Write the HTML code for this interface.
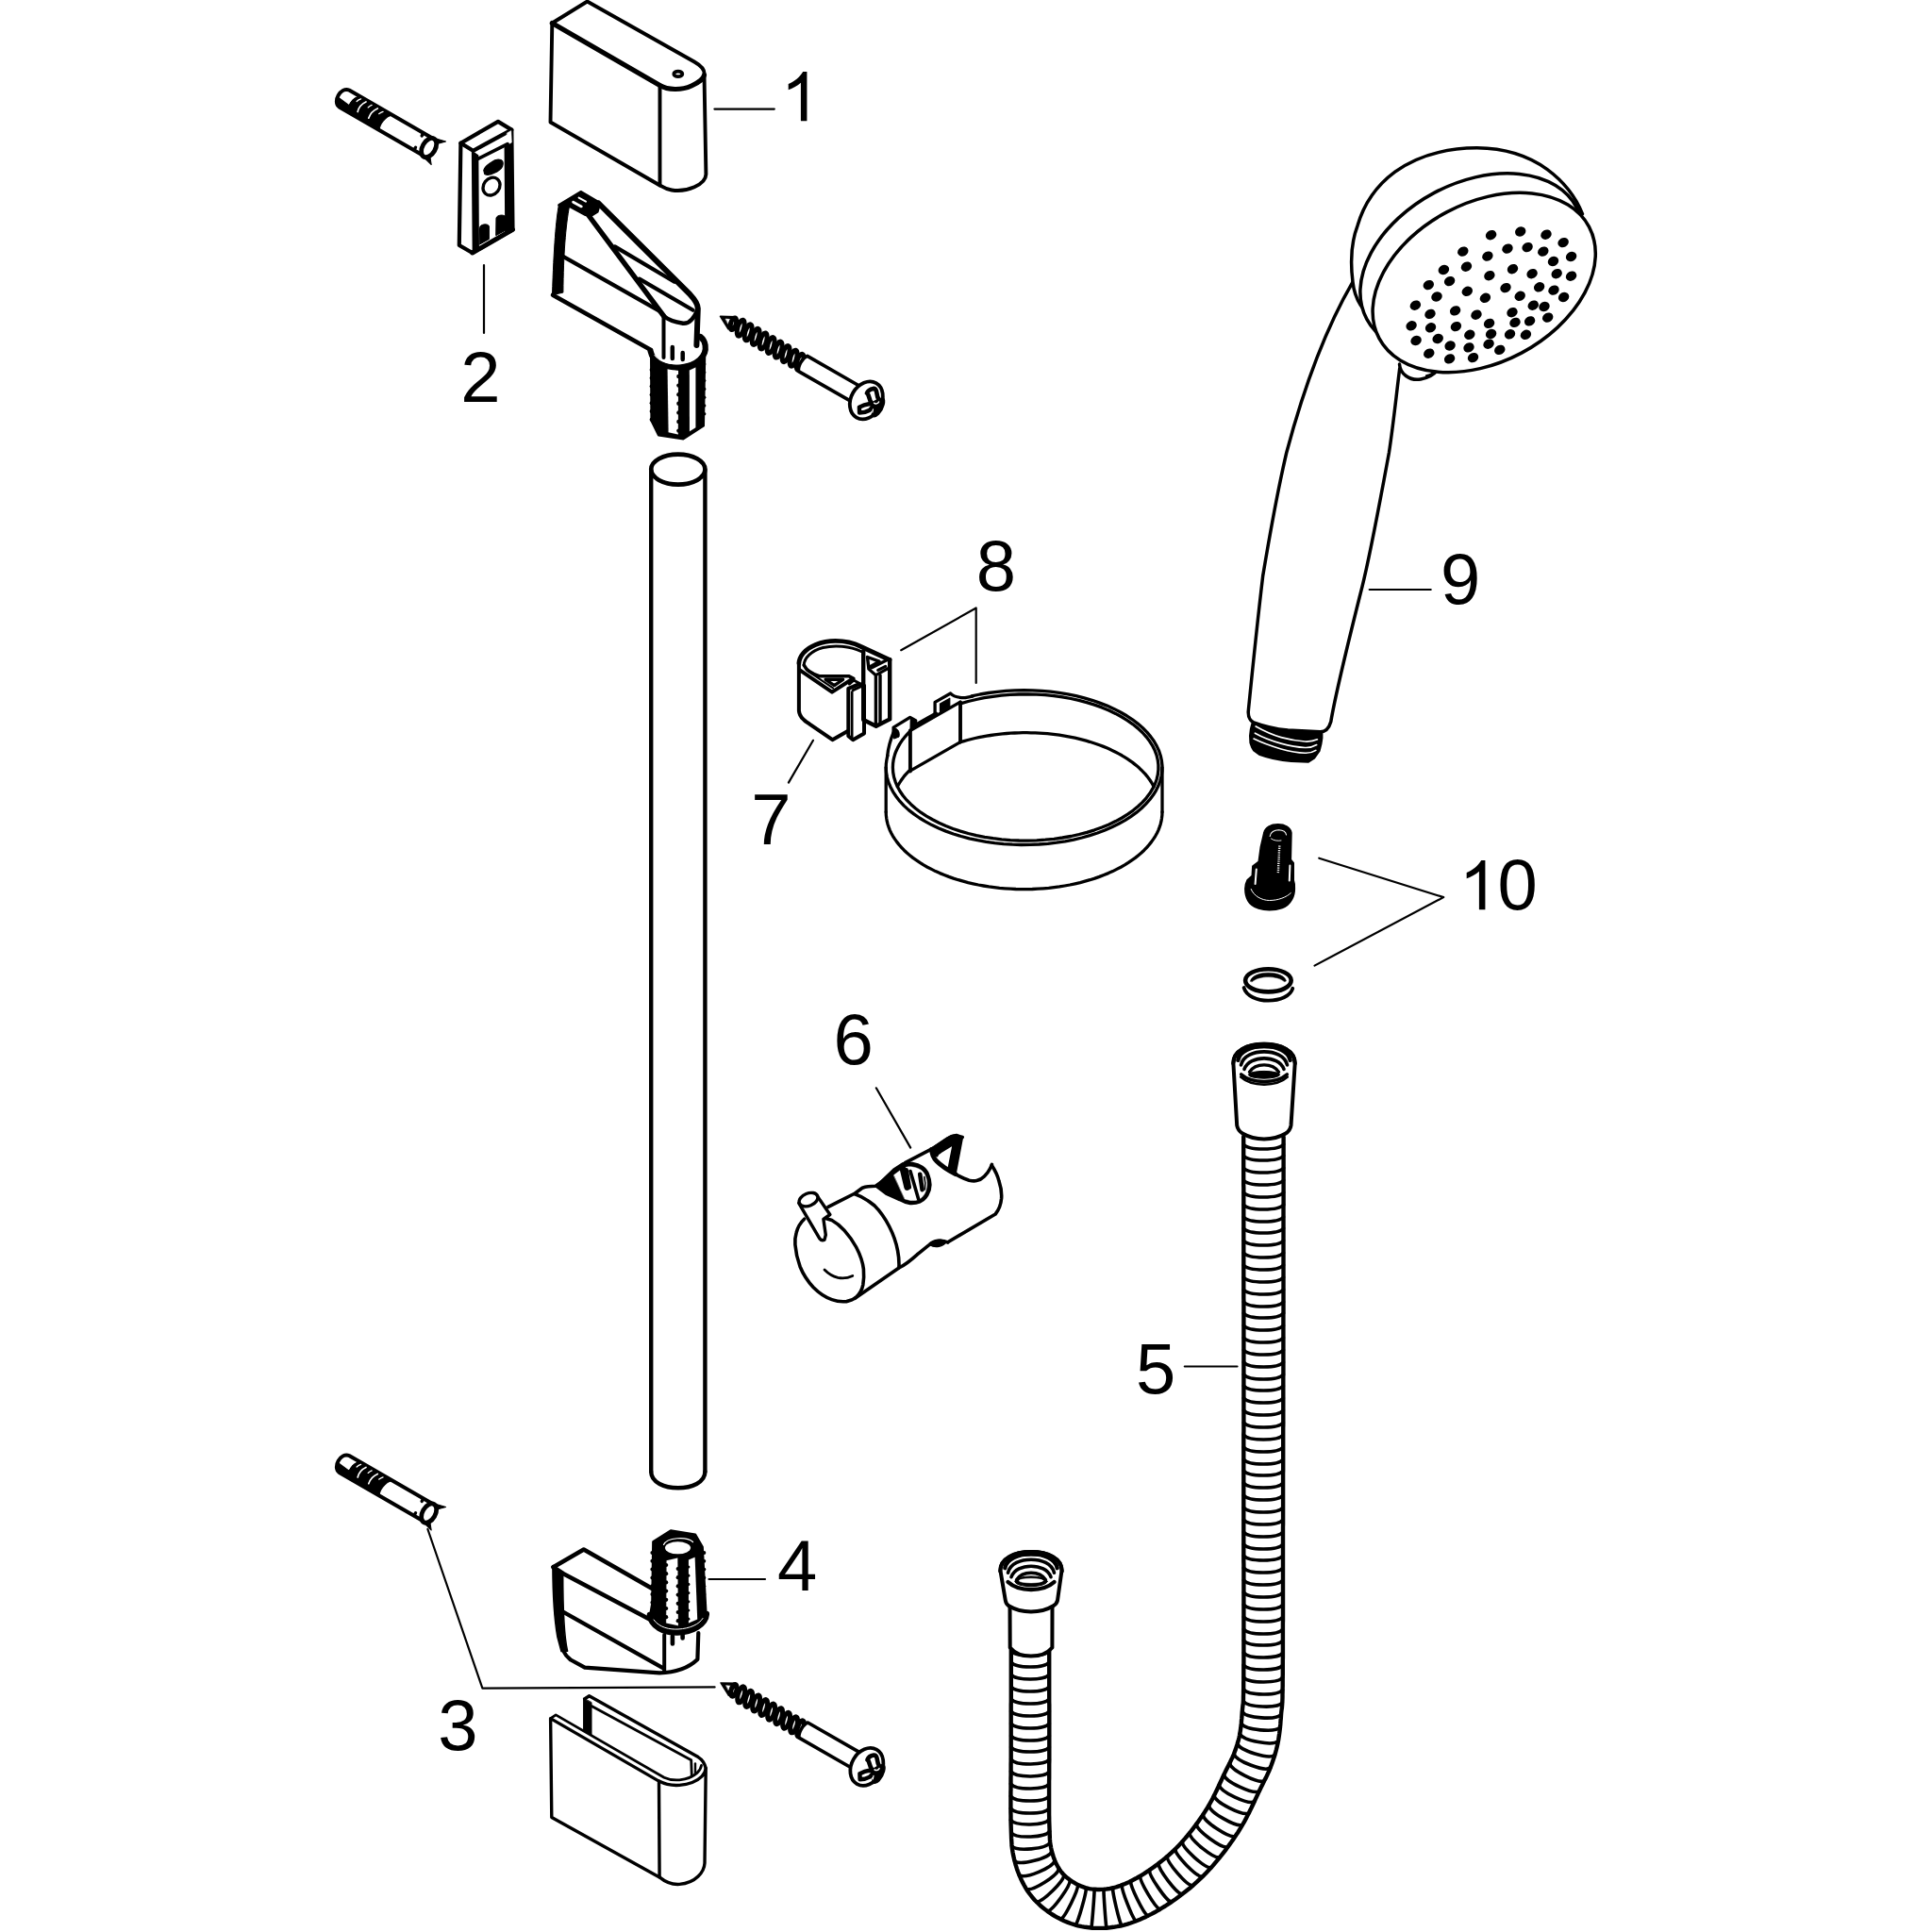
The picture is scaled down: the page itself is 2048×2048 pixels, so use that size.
<!DOCTYPE html>
<html><head><meta charset="utf-8"><title>Exploded diagram</title>
<style>
html,body{margin:0;padding:0;background:#fff;}
body{width:2048px;height:2048px;overflow:hidden;}
svg{display:block;}
.t{font-family:"Liberation Sans",sans-serif;fill:#000;}
path,line,ellipse,polyline{stroke-linecap:round;stroke-linejoin:round;}
</style></head><body>
<svg xmlns="http://www.w3.org/2000/svg" width="2048" height="2048" viewBox="0 0 2048 2048">
<rect width="2048" height="2048" fill="#fff"/>
<path transform="translate(855.4,128.3)" d="M0,0 L-6.5,0 L-6.5,-40.6 C-10.5,-37.2 -15.5,-34.6 -19.7,-33.1 L-19.7,-39.3 C-13.5,-41.8 -7.4,-46.6 -4.2,-52.3 L0,-52.3 Z" fill="#000"/>
<text x="488.3" y="425.8" font-size="76" class="t">2</text>
<text x="464.2" y="1855.4" font-size="76" class="t">3</text>
<text x="824.0" y="1685.8" font-size="76" class="t">4</text>
<text x="1204.1" y="1477.0" font-size="76" class="t">5</text>
<text x="883.5" y="1128.2" font-size="76" class="t">6</text>
<text x="796.2" y="894.6" font-size="76" class="t">7</text>
<text x="1034.7" y="626.1" font-size="76" class="t">8</text>
<text x="1527.0" y="640.0" font-size="76" class="t">9</text>
<path transform="translate(1574.4,964.3)" d="M0,0 L-6.5,0 L-6.5,-40.6 C-10.5,-37.2 -15.5,-34.6 -19.7,-33.1 L-19.7,-39.3 C-13.5,-41.8 -7.4,-46.6 -4.2,-52.3 L0,-52.3 Z" fill="#000"/>
<text x="1587.6" y="964.4" font-size="76" class="t">0</text>
<line x1="757.4" y1="115.6" x2="820.8" y2="115.6" stroke="#000" stroke-width="2.2" />
<line x1="513.0" y1="281.0" x2="513.0" y2="353.0" stroke="#000" stroke-width="2.2" />
<path d="M453.4,1621 L511.4,1789.6 L757.6,1788.4" fill="none" stroke="#000" stroke-width="2.2" />
<line x1="751.5" y1="1674.0" x2="811.0" y2="1674.0" stroke="#000" stroke-width="2.2" />
<line x1="1255.8" y1="1448.5" x2="1311.5" y2="1448.5" stroke="#000" stroke-width="2.2" />
<line x1="928.8" y1="1153.3" x2="965.2" y2="1216.6" stroke="#000" stroke-width="2.2" />
<line x1="862.0" y1="784.8" x2="835.9" y2="829.6" stroke="#000" stroke-width="2.2" />
<path d="M955.2,689.2 L1034.7,644.5 L1034.7,724" fill="none" stroke="#000" stroke-width="2.2" />
<line x1="1451.7" y1="625.0" x2="1516.7" y2="625.0" stroke="#000" stroke-width="2.2" />
<path d="M1398.3,909.7 L1530.2,951.1 L1393.5,1023.6" fill="none" stroke="#000" stroke-width="2.2" />
<path d="M585.3,24.5 L622.5,1.5 L736,65.5 C744,70 747.5,75 746.5,80 L748.4,184.8 C748,196 728,204 712,201.5 C706,200.5 702,198 699.5,196.5 L583.5,129.5 Z" fill="none" stroke="#000" stroke-width="3.9" />
<path d="M585.3,24.5 L699.5,90.5 C708,95.5 722,96 733,91 C741,87.5 746,83 746.5,79.7" fill="none" stroke="#000" stroke-width="5.2" />
<line x1="699.5" y1="90.5" x2="699.5" y2="196.5" stroke="#000" stroke-width="3.9" />
<ellipse cx="718.8" cy="78.4" rx="4.5" ry="2.7" fill="none" stroke="#000" stroke-width="3.8"/>
<g transform="translate(364,104) rotate(30)">
<path d="M1,-10.4 L104,-10.4 L104,10.4 L1,10.4 C-8.5,9 -8.5,-9 1,-10.4 Z" fill="#fff" stroke="#000" stroke-width="4" />
<path d="M14,-10 C8,-5 8,5 12,10.5 L-2,10.5 C-5,8 -6,5 -5.5,2 L9,3.5 C9,-2 11,-7 14,-10 Z" fill="#000" stroke="#000" stroke-width="1" />
<path d="M14,-10.4 L54,-10.4 C48,-5 47,5 50,10.4 L12,10.4 C8,5 8,-5 14,-10.4 Z" fill="#000" stroke="#000" stroke-width="1" />
<path d="M22.7,-8.6 C19.5,-4 19,1 20.4,5" fill="none" stroke="#fff" stroke-width="1.7" />
<path d="M36.9,-8.6 C33.5,-4 33,1 33.8,5" fill="none" stroke="#fff" stroke-width="1.7" />
<path d="M16.5,-8.6 C15,-7 14.4,-5.5 14,-4" fill="none" stroke="#fff" stroke-width="1.3" />
<path d="M29.8,-8.6 C28.5,-7 28,-5.5 27.6,-4.5" fill="none" stroke="#fff" stroke-width="1.3" />
<path d="M43.6,-8.6 C42,-7 41.5,-5.5 41,-4.5" fill="none" stroke="#fff" stroke-width="1.3" />
<ellipse cx="104.8" cy="0.2" rx="6.8" ry="11.0" fill="#fff" stroke="#000" stroke-width="4.8"/>
<path d="M92,-10 L92,-7 M92.4,10 L92.4,7" fill="none" stroke="#000" stroke-width="3.4" />
<path d="M105,-11.5 L117,-14.5 L109.5,-7 Z" fill="#000" stroke="#000" stroke-width="1" />
<path d="M104,11.5 L116,14.5 L109.5,6.5 Z" fill="#000" stroke="#000" stroke-width="1" />
</g>
<g transform="translate(364,1551.5) rotate(30)">
<path d="M1,-10.4 L104,-10.4 L104,10.4 L1,10.4 C-8.5,9 -8.5,-9 1,-10.4 Z" fill="#fff" stroke="#000" stroke-width="4" />
<path d="M14,-10 C8,-5 8,5 12,10.5 L-2,10.5 C-5,8 -6,5 -5.5,2 L9,3.5 C9,-2 11,-7 14,-10 Z" fill="#000" stroke="#000" stroke-width="1" />
<path d="M14,-10.4 L54,-10.4 C48,-5 47,5 50,10.4 L12,10.4 C8,5 8,-5 14,-10.4 Z" fill="#000" stroke="#000" stroke-width="1" />
<path d="M22.7,-8.6 C19.5,-4 19,1 20.4,5" fill="none" stroke="#fff" stroke-width="1.7" />
<path d="M36.9,-8.6 C33.5,-4 33,1 33.8,5" fill="none" stroke="#fff" stroke-width="1.7" />
<path d="M16.5,-8.6 C15,-7 14.4,-5.5 14,-4" fill="none" stroke="#fff" stroke-width="1.3" />
<path d="M29.8,-8.6 C28.5,-7 28,-5.5 27.6,-4.5" fill="none" stroke="#fff" stroke-width="1.3" />
<path d="M43.6,-8.6 C42,-7 41.5,-5.5 41,-4.5" fill="none" stroke="#fff" stroke-width="1.3" />
<ellipse cx="104.8" cy="0.2" rx="6.8" ry="11.0" fill="#fff" stroke="#000" stroke-width="4.8"/>
<path d="M92,-10 L92,-7 M92.4,10 L92.4,7" fill="none" stroke="#000" stroke-width="3.4" />
<path d="M105,-11.5 L117,-14.5 L109.5,-7 Z" fill="#000" stroke="#000" stroke-width="1" />
<path d="M104,11.5 L116,14.5 L109.5,6.5 Z" fill="#000" stroke="#000" stroke-width="1" />
</g>
<path d="M488.4,151.7 L528.0,128.9 L542.3,137.6 L543.5,243.4 L500.7,268.0 L486.8,260.0 Z" fill="none" stroke="#000" stroke-width="4.2" />
<path d="M488.4,151.7 L501.5,159.8 L542.3,137.6" fill="none" stroke="#000" stroke-width="4.2" />
<path d="M500.6,160.5 L506.6,164.8 L507.2,262.8 L501.4,266 Z" fill="#000" stroke="#000" stroke-width="1.5" />
<path d="M535.3,155.2 L541.8,151.6 L542.4,243 L536,246.5 Z" fill="#000" stroke="#000" stroke-width="1.5" />
<path d="M537.5,141 L541.8,138.6 L542.4,151 L538,153.4 Z" fill="#fff" stroke="#fff" stroke-width="0.5" />
<path d="M504,169.7 L538,152.7" fill="none" stroke="#000" stroke-width="3.7" />
<path d="M500.7,268 L543.5,243.4" fill="none" stroke="#000" stroke-width="5" />
<ellipse cx="521.0" cy="197.6" rx="8.4" ry="10.0" fill="none" stroke="#000" stroke-width="3.4" transform="rotate(38 521.0 197.6)"/>
<path d="M512.8,180.5 C514,176 518,174 521,172 C524,169.5 528,168.5 531,169.5 C533.5,171 533.5,174 532.5,176.5 C531,180 527,182 523.5,183.5 C520,185.2 516,185.8 513.8,184.5 Z" fill="#000" stroke="#000" stroke-width="1.2" />
<path d="M508.6,241 C509,237.5 517.5,236.5 518.4,240 L518.4,253.5 L508.6,259 Z" fill="#000" stroke="#000" stroke-width="1" />
<path d="M526,231 C526.5,227.5 535.5,226.8 536.2,230.5 L536.2,244 L526,249.5 Z" fill="#000" stroke="#000" stroke-width="1" />
<path d="M592.4,217.2 C589.5,232 587,262 585.5,312.7 L596.9,310.1 C597.2,270 599.5,240 603.6,218.2 Z" fill="#000" stroke="#000" stroke-width="1" />
<path d="M592.4,217.4 L615.6,203.2 L636,215 L633.4,224.4 L627,228.5 L620.2,227.7 L603.6,218.6 Z" fill="#000" stroke="#000" stroke-width="2.5" />
<path d="M613.6,209.6 L621,213.6" fill="none" stroke="#fff" stroke-width="2.0" />
<path d="M607.6,214.2 L616.3,218.9" fill="none" stroke="#fff" stroke-width="2.8" />
<circle cx="627.6" cy="221.2" r="6.5" fill="#000"/>
<path d="M634.5,215.5 L731.5,312.2 C737,318 739.8,322 739.8,327 L738.4,366" fill="none" stroke="#000" stroke-width="6" />
<path d="M621.8,225.5 L703.5,334.9" fill="none" stroke="#000" stroke-width="5.4" />
<path d="M703.5,334.9 C708,339 716,341.5 724,342.8 C730,343.5 735,339 739.6,328" fill="none" stroke="#000" stroke-width="4.5" />
<line x1="651.8" y1="261.4" x2="714.9" y2="298.7" stroke="#000" stroke-width="4.2" />
<line x1="677.7" y1="295.6" x2="734.6" y2="328.7" stroke="#000" stroke-width="4.2" />
<line x1="596.9" y1="271.8" x2="699.4" y2="329.8" stroke="#000" stroke-width="4.2" />
<line x1="586.0" y1="312.7" x2="690.0" y2="371.0" stroke="#000" stroke-width="4.6" />
<line x1="703.5" y1="336.0" x2="703.5" y2="379.0" stroke="#000" stroke-width="4" />
<path d="M690.0,374 C692,387 708,391.5 722,390.3 C738,389 749,380 747.4,367 L746.0,451.5 L724.4,465.5 L698,461.5 L690.4,446 Z" fill="#000" stroke="#000" stroke-width="2" />
<path d="M707.6,390.5 L719.0,392.8 L718.8,460.6 L708.6,458.2 Z" fill="#fff" stroke="#fff" stroke-width="0.1" />
<path d="M730.9,392.5 L737.4,389.5 L737.4,453.2 L731.0,457.2 Z" fill="#fff" stroke="#fff" stroke-width="0.1" />
<circle cx="719.4" cy="399.0" r="2.2" fill="#000"/>
<circle cx="719.4" cy="408.6" r="2.2" fill="#000"/>
<circle cx="719.4" cy="418.2" r="2.2" fill="#000"/>
<circle cx="719.4" cy="427.8" r="2.2" fill="#000"/>
<circle cx="719.4" cy="437.4" r="2.2" fill="#000"/>
<circle cx="719.4" cy="447.0" r="2.2" fill="#000"/>
<circle cx="719.4" cy="456.6" r="2.2" fill="#000"/>
<circle cx="690.6" cy="392.0" r="2.0" fill="#000"/>
<circle cx="746.6" cy="386.0" r="1.8" fill="#000"/>
<circle cx="690.6" cy="400.8" r="2.0" fill="#000"/>
<circle cx="746.6" cy="394.8" r="1.8" fill="#000"/>
<circle cx="690.6" cy="409.6" r="2.0" fill="#000"/>
<circle cx="746.6" cy="403.6" r="1.8" fill="#000"/>
<circle cx="690.6" cy="418.4" r="2.0" fill="#000"/>
<circle cx="746.6" cy="412.4" r="1.8" fill="#000"/>
<circle cx="690.6" cy="427.2" r="2.0" fill="#000"/>
<circle cx="746.6" cy="421.2" r="1.8" fill="#000"/>
<circle cx="690.6" cy="436.0" r="2.0" fill="#000"/>
<circle cx="746.6" cy="430.0" r="1.8" fill="#000"/>
<circle cx="690.6" cy="444.8" r="2.0" fill="#000"/>
<circle cx="746.6" cy="438.8" r="1.8" fill="#000"/>
<path d="M712.8,368 L712.8,380 M723.7,374 L723.7,381" fill="none" stroke="#000" stroke-width="4.5" />
<path d="M689.5,372 C692,385 708,390.5 722,389.3 C738,388 749.5,378 747.6,366 C747,362 745,359 742.5,357" fill="none" stroke="#000" stroke-width="6.2" />
<path d="M694,376.5 C700,384.5 712,386.5 722,385.3 C733,384 742,378 743.6,369.5" fill="none" stroke="#fff" stroke-width="1.1" />
<line x1="690.2" y1="498.0" x2="690.2" y2="1560.0" stroke="#000" stroke-width="4.4" />
<line x1="747.4" y1="498.0" x2="747.4" y2="1560.0" stroke="#000" stroke-width="4.4" />
<ellipse cx="718.8" cy="497.6" rx="28.6" ry="16.0" fill="none" stroke="#000" stroke-width="4.6"/>
<path d="M690.2,1560 C690.2,1583 747.4,1583 747.4,1560" fill="none" stroke="#000" stroke-width="4.4" />
<g transform="translate(763.5,335.3) rotate(29.8)">
<path d="M0,0 L14,-7.5 L14,7.5 Z" fill="#000" stroke="#000" stroke-width="1.5" />
<path d="M6.5,-0.5 L11,-2.5 L11,2.5 Z" fill="#fff" stroke="#fff" stroke-width="0.5" />
<ellipse cx="16" cy="0" rx="2.8" ry="6.5" fill="#fff" stroke="#000" stroke-width="5" transform="rotate(-14 16 0)"/>
<ellipse cx="25" cy="0" rx="3.3" ry="8.8" fill="#fff" stroke="#000" stroke-width="5" transform="rotate(-14 25 0)"/>
<ellipse cx="34.2" cy="0" rx="3.3" ry="8.8" fill="#fff" stroke="#000" stroke-width="5" transform="rotate(-14 34.2 0)"/>
<ellipse cx="43.4" cy="0" rx="3.3" ry="8.8" fill="#fff" stroke="#000" stroke-width="5" transform="rotate(-14 43.4 0)"/>
<ellipse cx="52.6" cy="0" rx="3.3" ry="8.8" fill="#fff" stroke="#000" stroke-width="5" transform="rotate(-14 52.6 0)"/>
<ellipse cx="61.8" cy="0" rx="3.3" ry="8.8" fill="#fff" stroke="#000" stroke-width="5" transform="rotate(-14 61.8 0)"/>
<ellipse cx="71" cy="0" rx="3.3" ry="8.8" fill="#fff" stroke="#000" stroke-width="5" transform="rotate(-14 71 0)"/>
<ellipse cx="80.2" cy="0" rx="3.3" ry="8.8" fill="#fff" stroke="#000" stroke-width="5" transform="rotate(-14 80.2 0)"/>
<ellipse cx="89.4" cy="0" rx="3.3" ry="8.8" fill="#fff" stroke="#000" stroke-width="5" transform="rotate(-14 89.4 0)"/>
<ellipse cx="97.5" cy="0" rx="3.3" ry="8.8" fill="#fff" stroke="#000" stroke-width="5" transform="rotate(-14 97.5 0)"/>
<path d="M101,-9.3 L166,-9.3 L166,9.3 L101,9.3 C97.5,5 97.5,-5 101,-9.3 Z" fill="#fff" stroke="#000" stroke-width="3.6" />
<ellipse cx="178.6" cy="0.3" rx="16.2" ry="21.0" fill="#fff" stroke="#000" stroke-width="3.8"/>
</g>
<g transform="translate(0,0)">
<path d="M918.9,416.9 C920,414 922.5,412.4 925.7,411.9 C927.5,411.8 928.6,413 929,414.8 L930.2,420.5 L931.9,424.6" fill="none" stroke="#000" stroke-width="4.6" />
<path d="M920.3,418.3 L922.4,424.6 L925,429.2" fill="none" stroke="#000" stroke-width="4.6" />
<path d="M910.9,431.6 C914,430 918,428.6 921,428.2 L925,429 M911.1,437.6 C915,437.6 919,436.4 921.5,435 L924.2,432.2 M910.9,431.6 L911.1,437.6" fill="none" stroke="#000" stroke-width="4.4" />
<path d="M924,427.2 L931,423.2 L936.2,421.6 C937.6,423 937.8,426 937,429 C936,433 934,436.5 931.5,439 C929.5,441 927.5,442 926,441.5 C924.6,441 924.2,439.5 924.6,438 L925.6,434.5 L925.4,430.5 Z" fill="#000" stroke="#000" stroke-width="1.5" />
<path d="M926.6,427.3 C928,428.6 930.6,428 931.6,426" fill="none" stroke="#fff" stroke-width="1.5" />
<path d="M925.5,433.8 L924.8,437.2" fill="none" stroke="#fff" stroke-width="1.2" />
</g>
<g transform="translate(764.0,1783.8999999999999) rotate(29.8)">
<path d="M0,0 L14,-7.5 L14,7.5 Z" fill="#000" stroke="#000" stroke-width="1.5" />
<path d="M6.5,-0.5 L11,-2.5 L11,2.5 Z" fill="#fff" stroke="#fff" stroke-width="0.5" />
<ellipse cx="16" cy="0" rx="2.8" ry="6.5" fill="#fff" stroke="#000" stroke-width="5" transform="rotate(-14 16 0)"/>
<ellipse cx="25" cy="0" rx="3.3" ry="8.8" fill="#fff" stroke="#000" stroke-width="5" transform="rotate(-14 25 0)"/>
<ellipse cx="34.2" cy="0" rx="3.3" ry="8.8" fill="#fff" stroke="#000" stroke-width="5" transform="rotate(-14 34.2 0)"/>
<ellipse cx="43.4" cy="0" rx="3.3" ry="8.8" fill="#fff" stroke="#000" stroke-width="5" transform="rotate(-14 43.4 0)"/>
<ellipse cx="52.6" cy="0" rx="3.3" ry="8.8" fill="#fff" stroke="#000" stroke-width="5" transform="rotate(-14 52.6 0)"/>
<ellipse cx="61.8" cy="0" rx="3.3" ry="8.8" fill="#fff" stroke="#000" stroke-width="5" transform="rotate(-14 61.8 0)"/>
<ellipse cx="71" cy="0" rx="3.3" ry="8.8" fill="#fff" stroke="#000" stroke-width="5" transform="rotate(-14 71 0)"/>
<ellipse cx="80.2" cy="0" rx="3.3" ry="8.8" fill="#fff" stroke="#000" stroke-width="5" transform="rotate(-14 80.2 0)"/>
<ellipse cx="89.4" cy="0" rx="3.3" ry="8.8" fill="#fff" stroke="#000" stroke-width="5" transform="rotate(-14 89.4 0)"/>
<ellipse cx="97.5" cy="0" rx="3.3" ry="8.8" fill="#fff" stroke="#000" stroke-width="5" transform="rotate(-14 97.5 0)"/>
<path d="M101,-9.3 L166,-9.3 L166,9.3 L101,9.3 C97.5,5 97.5,-5 101,-9.3 Z" fill="#fff" stroke="#000" stroke-width="3.6" />
<ellipse cx="178.6" cy="0.3" rx="16.2" ry="21.0" fill="#fff" stroke="#000" stroke-width="3.8"/>
</g>
<g transform="translate(0.5,1448.6)">
<path d="M918.9,416.9 C920,414 922.5,412.4 925.7,411.9 C927.5,411.8 928.6,413 929,414.8 L930.2,420.5 L931.9,424.6" fill="none" stroke="#000" stroke-width="4.6" />
<path d="M920.3,418.3 L922.4,424.6 L925,429.2" fill="none" stroke="#000" stroke-width="4.6" />
<path d="M910.9,431.6 C914,430 918,428.6 921,428.2 L925,429 M911.1,437.6 C915,437.6 919,436.4 921.5,435 L924.2,432.2 M910.9,431.6 L911.1,437.6" fill="none" stroke="#000" stroke-width="4.4" />
<path d="M924,427.2 L931,423.2 L936.2,421.6 C937.6,423 937.8,426 937,429 C936,433 934,436.5 931.5,439 C929.5,441 927.5,442 926,441.5 C924.6,441 924.2,439.5 924.6,438 L925.6,434.5 L925.4,430.5 Z" fill="#000" stroke="#000" stroke-width="1.5" />
<path d="M926.6,427.3 C928,428.6 930.6,428 931.6,426" fill="none" stroke="#fff" stroke-width="1.5" />
<path d="M925.5,433.8 L924.8,437.2" fill="none" stroke="#fff" stroke-width="1.2" />
</g>
<path d="M585.9,1660.8 C586,1690 587.5,1716 590.9,1735.3 L595,1750.5 L601.6,1750.2 C598,1735 596.7,1712 596.7,1667.4 Z" fill="#000" stroke="#000" stroke-width="1.5" />
<path d="M586.5,1661.2 L618.8,1642.6 L691,1683.8" fill="none" stroke="#000" stroke-width="4.6" />
<path d="M586.5,1661.2 L597.3,1668.2 L690,1717.2" fill="none" stroke="#000" stroke-width="4.6" />
<line x1="597.3" y1="1708.8" x2="703.6" y2="1768.6" stroke="#000" stroke-width="4.2" />
<path d="M597.5,1750.5 C600,1756 603,1758 605,1759.5 L619.9,1767.6 L699.1,1773.4 C715,1773 730,1768 739.4,1759 L740.3,1731" fill="none" stroke="#000" stroke-width="4.2" />
<line x1="704.2" y1="1733.0" x2="704.2" y2="1772.6" stroke="#000" stroke-width="4" />
<path d="M692.4,1634.2 L711,1622.6 L737.1,1626.8 L744.6,1639.8 L748.4,1711 C747.5,1722 734,1730.4 718,1730.8 C704,1731.2 690,1724 689.3,1712 L691.4,1700 Z" fill="#000" stroke="#000" stroke-width="2.5" />
<ellipse cx="718.5" cy="1640.8" rx="13.5" ry="6.5" fill="#fff" stroke="#fff" stroke-width="0.1"/>
<path d="M703.5,1637.5 C707,1629.5 728,1628.5 734.5,1634.5" fill="none" stroke="#fff" stroke-width="1.2" />
<path d="M706.6,1654.2 L718.3,1651.5 L718.9,1723.2 L706.2,1720.5 Z" fill="#fff" stroke="#fff" stroke-width="0.1" />
<path d="M730.0,1653.5 L736.6,1650.8 L739.2,1716.5 L730.0,1720.5 Z" fill="#fff" stroke="#fff" stroke-width="0.1" />
<circle cx="706.2" cy="1659.0" r="2.1" fill="#000"/>
<circle cx="718.7" cy="1663.0" r="2.1" fill="#000"/>
<circle cx="729.8" cy="1661.0" r="1.6" fill="#000"/>
<circle cx="706.2" cy="1668.2" r="2.1" fill="#000"/>
<circle cx="718.7" cy="1672.2" r="2.1" fill="#000"/>
<circle cx="729.8" cy="1670.2" r="1.6" fill="#000"/>
<circle cx="706.2" cy="1677.4" r="2.1" fill="#000"/>
<circle cx="718.7" cy="1681.4" r="2.1" fill="#000"/>
<circle cx="729.8" cy="1679.4" r="1.6" fill="#000"/>
<circle cx="706.2" cy="1686.6" r="2.1" fill="#000"/>
<circle cx="718.7" cy="1690.6" r="2.1" fill="#000"/>
<circle cx="729.8" cy="1688.6" r="1.6" fill="#000"/>
<circle cx="706.2" cy="1695.8" r="2.1" fill="#000"/>
<circle cx="718.7" cy="1699.8" r="2.1" fill="#000"/>
<circle cx="729.8" cy="1697.8" r="1.6" fill="#000"/>
<circle cx="706.2" cy="1705.0" r="2.1" fill="#000"/>
<circle cx="718.7" cy="1709.0" r="2.1" fill="#000"/>
<circle cx="729.8" cy="1707.0" r="1.6" fill="#000"/>
<circle cx="706.2" cy="1714.2" r="2.1" fill="#000"/>
<circle cx="718.7" cy="1718.2" r="2.1" fill="#000"/>
<circle cx="729.8" cy="1716.2" r="1.6" fill="#000"/>
<circle cx="691.4" cy="1646.0" r="2.0" fill="#000"/>
<circle cx="746.4" cy="1646.0" r="1.9" fill="#000"/>
<circle cx="691.4" cy="1654.8" r="2.0" fill="#000"/>
<circle cx="746.4" cy="1654.8" r="1.9" fill="#000"/>
<circle cx="691.4" cy="1663.6" r="2.0" fill="#000"/>
<circle cx="746.4" cy="1663.6" r="1.9" fill="#000"/>
<circle cx="691.4" cy="1672.4" r="2.0" fill="#000"/>
<circle cx="746.4" cy="1672.4" r="1.9" fill="#000"/>
<circle cx="691.4" cy="1681.2" r="2.0" fill="#000"/>
<circle cx="746.4" cy="1681.2" r="1.9" fill="#000"/>
<circle cx="691.4" cy="1690.0" r="2.0" fill="#000"/>
<circle cx="746.4" cy="1690.0" r="1.9" fill="#000"/>
<circle cx="691.4" cy="1698.8" r="2.0" fill="#000"/>
<circle cx="746.4" cy="1698.8" r="1.9" fill="#000"/>
<path d="M688.9,1712 C690,1724 704,1731 718,1730.6 C734,1730 748,1722 748.9,1711" fill="none" stroke="#000" stroke-width="6.4" />
<path d="M693,1717 C699,1725.5 710,1727.5 719,1727 C731,1726.4 741,1722 745,1715.5" fill="none" stroke="#fff" stroke-width="1.0" />
<path d="M712.9,1734.5 L712.9,1742.5 M723.6,1733.5 L723.6,1736.5" fill="none" stroke="#000" stroke-width="4.6" />
<path d="M619.6,1801 L624.6,1797.8 L740.1,1862.6 C744,1865 747,1869 748.2,1874.4" fill="none" stroke="#000" stroke-width="3.4" />
<path d="M627.1,1808.6 L732.7,1865.7 L733.3,1883" fill="none" stroke="#000" stroke-width="2.8" />
<path d="M737,1869.5 L737,1880" fill="none" stroke="#000" stroke-width="2.4" />
<path d="M618.6,1800.5 L618.6,1835 L627,1839.5 L627,1805 Z" fill="#000" stroke="#000" stroke-width="1" />
<path d="M583.6,1821.6 L698.5,1888.1 L699.1,1989.9 L584.8,1926.6 Z" fill="none" stroke="#000" stroke-width="3.4" />
<path d="M698.5,1888.1 C705,1891.5 712,1893 720.2,1892.4 C730,1891.5 739,1888 743.9,1883.1 C746.5,1880.5 748,1877.5 748.2,1874.4 L747,1975 C746.5,1984 738,1996 720.2,1997.4 C711,1998 704,1994 699.1,1989.9" fill="none" stroke="#000" stroke-width="3.4" />
<path d="M583.6,1821.6 L589.2,1817.9 L704,1884.2 C709,1886.5 714,1887.3 720.2,1886.8 C728,1886 735,1883 738.9,1879.4 C741.5,1877 743,1874.5 743.5,1871.5" fill="none" stroke="#000" stroke-width="2.8" />
<path d="M1030.0,737.8 L1038.9,736.0 L1047.9,734.5 L1057.1,733.3 L1066.4,732.4 L1075.8,731.9 L1085.3,731.7 L1094.7,731.9 L1104.2,732.4 L1113.5,733.2 L1122.7,734.4 L1131.8,735.9 L1140.6,737.7 L1149.3,739.9 L1157.7,742.3 L1165.7,745.1 L1173.5,748.1 L1180.8,751.4 L1187.8,755.0 L1194.4,758.8 L1200.5,762.8 L1206.1,767.1 L1211.2,771.5 L1215.8,776.1 L1219.8,780.9 L1223.3,785.8 L1226.2,790.9 L1228.6,796.0 L1230.3,801.2 L1231.4,806.4 L1232.0,811.7 L1231.9,817.0 L1231.2,822.3 L1229.9,827.5 L1228.0,832.7 L1225.5,837.8 L1222.4,842.8 L1218.7,847.7 L1214.5,852.4 L1209.8,857.0 L1204.5,861.4 L1198.7,865.6 L1192.5,869.6 L1185.8,873.3 L1178.7,876.8 L1171.3,880.0 L1163.4,883.0 L1155.2,885.6 L1146.8,888.0 L1138.1,890.1 L1129.2,891.8 L1120.0,893.2 L1110.8,894.3 L1101.4,895.0 L1092.0,895.4 L1082.5,895.5 L1073.1,895.2 L1063.7,894.6 L1054.4,893.6 L1045.3,892.3 L1036.3,890.7 L1027.5,888.8 L1018.9,886.5 L1010.6,884.0 L1002.7,881.1 L995.1,878.0 L987.8,874.6 L981.0,870.9 L974.6,867.0 L968.7,862.9 L963.2,858.6 L958.3,854.1 L953.9,849.4 L950.1,844.5 L946.8,839.6 L944.1,834.5 L941.9,829.4 L940.4,824.1 L939.5,818.9 L939.2,813.6 L939.2,813.6 L939.2,812.5 L939.3,811.3 L939.3,810.2 L939.4,809.0 L939.6,807.9 L939.7,806.7 L939.9,805.6 L940.1,804.4 L940.4,803.3 L940.6,802.1 L940.9,801.0" fill="none" stroke="#000" stroke-width="3.3" />
<path d="M940.7,801 C941.6,792 944,784 947.1,776.5" fill="none" stroke="#000" stroke-width="3.3" />
<path d="M1018.0,745.9 L1026.3,743.5 L1034.8,741.5 L1043.5,739.7 L1052.5,738.3 L1061.6,737.2 L1070.8,736.4 L1080.1,736.0 L1089.4,735.9 L1098.7,736.2 L1107.9,736.7 L1117.1,737.7 L1126.1,738.9 L1135.0,740.5 L1143.6,742.4 L1152.0,744.6 L1160.2,747.1 L1168.0,749.9 L1175.4,753.0 L1182.5,756.4 L1189.1,760.0 L1195.3,763.8 L1201.0,767.8 L1206.3,772.1 L1211.0,776.5 L1215.1,781.1 L1218.7,785.8 L1221.8,790.7 L1224.2,795.6 L1226.1,800.7 L1227.3,805.8 L1227.9,810.9 L1227.9,816.0 L1227.3,821.1 L1226.1,826.2 L1224.3,831.3 L1221.8,836.2 L1218.8,841.1 L1215.2,845.8 L1211.1,850.4 L1206.4,854.8 L1201.2,859.1 L1195.4,863.1 L1189.3,867.0 L1182.6,870.6 L1175.6,873.9 L1168.1,877.0 L1160.3,879.8 L1152.2,882.3 L1143.8,884.5 L1135.2,886.5 L1126.3,888.0 L1117.3,889.3 L1108.1,890.2 L1098.9,890.8 L1089.6,891.1 L1080.3,891.0 L1071.0,890.6 L1061.8,889.8 L1052.7,888.7 L1043.7,887.3 L1035.0,885.6 L1026.4,883.5 L1018.2,881.1 L1010.2,878.5 L1002.6,875.5 L995.3,872.3 L988.5,868.8 L982.1,865.1 L976.1,861.2 L970.6,857.0 L965.7,852.7 L961.2,848.2 L957.3,843.5 L954.0,838.7 L951.3,833.8 L949.2,828.8 L947.6,823.7 L946.7,818.6 L946.4,813.5 L946.4,813.5 L946.5,811.4 L946.6,809.3 L946.9,807.2 L947.2,805.1 L947.7,803.0 L948.3,800.9 L948.9,798.8 L949.7,796.7 L950.6,794.7 L951.6,792.6 L952.7,790.6 L953.8,788.6 L955.1,786.6 L956.5,784.6 L958.0,782.7 L959.5,780.8 L961.2,778.9 L963.0,777.0 L964.8,775.1" fill="none" stroke="#000" stroke-width="3.3" />
<path d="M1232.0,860.7 L1231.9,864.0 L1231.5,867.2 L1231.0,870.4 L1230.2,873.7 L1229.1,876.9 L1227.9,880.1 L1226.4,883.2 L1224.7,886.3 L1222.7,889.4 L1220.6,892.4 L1218.2,895.4 L1215.6,898.3 L1212.9,901.2 L1209.9,904.0 L1206.7,906.7 L1203.4,909.4 L1199.8,911.9 L1196.1,914.4 L1192.2,916.9 L1188.1,919.2 L1183.8,921.4 L1179.5,923.6 L1174.9,925.6 L1170.2,927.5 L1165.4,929.4 L1160.5,931.1 L1155.4,932.7 L1150.2,934.2 L1145.0,935.6 L1139.6,936.8 L1134.1,938.0 L1128.6,939.0 L1123.0,939.9 L1117.4,940.6 L1111.7,941.3 L1105.9,941.8 L1100.1,942.2 L1094.3,942.5 L1088.5,942.6 L1082.7,942.6 L1076.9,942.5 L1071.1,942.2 L1065.3,941.8 L1059.5,941.3 L1053.8,940.6 L1048.2,939.9 L1042.6,939.0 L1037.1,938.0 L1031.6,936.8 L1026.2,935.6 L1021.0,934.2 L1015.8,932.7 L1010.7,931.1 L1005.8,929.4 L1001.0,927.5 L996.3,925.6 L991.7,923.6 L987.4,921.4 L983.1,919.2 L979.0,916.9 L975.1,914.4 L971.4,911.9 L967.8,909.4 L964.5,906.7 L961.3,904.0 L958.3,901.2 L955.6,898.3 L953.0,895.4 L950.6,892.4 L948.5,889.4 L946.5,886.3 L944.8,883.2 L943.3,880.1 L942.1,876.9 L941.0,873.7 L940.2,870.4 L939.7,867.2 L939.3,864.0 L939.2,860.7" fill="none" stroke="#000" stroke-width="3.3" />
<line x1="939.2" y1="813.6" x2="939.2" y2="860.7" stroke="#000" stroke-width="3.3" />
<line x1="1232.0" y1="813.6" x2="1232.0" y2="860.7" stroke="#000" stroke-width="3.3" />
<path d="M951.4,833.8 L952.5,831.6 L953.8,829.5 L955.2,827.3 L956.7,825.2 L958.2,823.1 L959.9,821.1 L961.8,819.1 L963.7,817.1 L965.7,815.1" fill="none" stroke="#000" stroke-width="3.3" />
<path d="M1018.0,786.7 L1021.8,785.6 L1025.7,784.5 L1029.6,783.5 L1033.6,782.5 L1037.6,781.7 L1041.7,780.9 L1045.8,780.1 L1050.0,779.5 L1054.2,778.9 L1058.4,778.3 L1062.7,777.9 L1067.0,777.5 L1071.3,777.2 L1075.6,777.0 L1079.9,776.8 L1084.2,776.7 L1088.6,776.7 L1092.9,776.8 L1097.3,776.9 L1101.6,777.1 L1105.9,777.4 L1110.2,777.7 L1114.4,778.2 L1118.7,778.7 L1122.9,779.2 L1127.1,779.9 L1131.2,780.6 L1135.3,781.4 L1139.4,782.2 L1143.4,783.1 L1147.3,784.1 L1151.2,785.2 L1155.0,786.3 L1158.8,787.5 L1162.5,788.7 L1166.1,790.0 L1169.7,791.4 L1173.2,792.8 L1176.5,794.3 L1179.9,795.9 L1183.1,797.5 L1186.2,799.1 L1189.2,800.8 L1192.2,802.6 L1195.0,804.4 L1197.8,806.3 L1200.4,808.1 L1202.9,810.1 L1205.3,812.1 L1207.6,814.1 L1209.8,816.2 L1211.9,818.3 L1213.9,820.4 L1215.7,822.6 L1217.4,824.8 L1219.0,827.0 L1220.5,829.2 L1221.8,831.5 L1223.0,833.8" fill="none" stroke="#000" stroke-width="3.3" />
<line x1="965.7" y1="816.6" x2="1018.0" y2="786.6" stroke="#000" stroke-width="3.3" />
<line x1="964.9" y1="774.5" x2="964.9" y2="817.5" stroke="#000" stroke-width="3.9" />
<line x1="1018.0" y1="744.4" x2="1018.0" y2="786.6" stroke="#000" stroke-width="3.9" />
<line x1="965.2" y1="774.2" x2="1018.0" y2="744.2" stroke="#000" stroke-width="3.3" />
<line x1="972.5" y1="768.2" x2="992.0" y2="757.2" stroke="#000" stroke-width="5.2" />
<path d="M947.1,777 L947.1,771.1 L964.7,760.4 L970.5,763.6" fill="none" stroke="#000" stroke-width="3.3" />
<path d="M965.5,761.5 L971.6,764 L970.5,771 L965.2,774 Z" fill="#000" stroke="#000" stroke-width="1.5" />
<path d="M947.3,771.5 C952,772 954,776 953,781 L948,783 Z" fill="#000" stroke="#000" stroke-width="1" />
<path d="M991.1,756.5 L991.1,744.4 L1007.6,735 C1010,738 1016,739.6 1023.2,739.6 L1031,738.2" fill="none" stroke="#000" stroke-width="3.3" />
<path d="M996.5,746 L1006.8,740.2 L1006.8,749 L996.5,754.5 Z" fill="#000" stroke="#000" stroke-width="1.2" />
<path d="M846.9,703.1 C847.3,695.8 853.2,687.9 864.5,683.4 C872.4,680.3 880.4,679.4 885.7,679.4 C894.3,679.4 904.2,681.2 912.8,685.5 L943.0,699.5 " fill="none" stroke="#000" stroke-width="4.8" />
<path d="M846.9,703.1 L846.9,753.4 C847.3,759.4 851.2,763.4 857.9,767.3 L882.4,784.2 898.6,775.0 " fill="none" stroke="#000" stroke-width="4.0" />
<path d="M852.2,705.1 C852.6,697.1 859.9,689.9 872.4,686.5 C884.4,683.6 900.9,684.6 912.8,690.5 " fill="none" stroke="#000" stroke-width="3.0" />
<path d="M852.2,705.1 C854.6,710.4 860.5,714.4 868.5,716.7 L899.6,716.7 904.9,719.3 " fill="none" stroke="#000" stroke-width="3.6" />
<path d="M847.9,710.4 L882.0,733.6 901.6,721.0 " fill="none" stroke="#000" stroke-width="4.0" />
<path d="M854.9,710.4 L883.0,729.3 " fill="none" stroke="#000" stroke-width="2.2" />
<path d="M875.1,720.3 L893.6,720.3 884.4,726.6 Z " fill="none" stroke="#000" stroke-width="3.4" />
<path d="M899.3,729.9 L899.3,780.3 904.2,784.2 916.0,777.6 916.0,726.6 910.8,725.0 904.2,727.9 Z " fill="#fff" stroke="#000" stroke-width="4.0" />
<path d="M903.2,733.6 L903.2,783.2 " fill="none" stroke="#000" stroke-width="2.6" />
<path d="M900.3,725.0 L904.9,721.0 910.8,724.3 M904.2,731.6 L914.2,726.9 " fill="none" stroke="#000" stroke-width="3.0" />
<path d="M915.2,690.2 L915.2,763.0 928.7,769.7 943.2,762.4 943.2,699.1 " fill="none" stroke="#000" stroke-width="4.4" />
<path d="M928.4,716.7 L928.4,768.7 M933.0,715.7 L933.0,766.7 " fill="none" stroke="#000" stroke-width="3.4" />
<path d="M919.5,696.5 L932.0,701.1 920.8,707.7 Z " fill="none" stroke="#000" stroke-width="3.4" />
<path d="M920.8,709.1 L928.4,715.7 943.2,707.7 M924.1,707.7 L940.0,699.8 M930.7,710.4 L938.7,706.4 " fill="none" stroke="#000" stroke-width="3.2" />
<path d="M877.9,1279.3 L906.3,1265 L914.1,1259.2 C919,1257.5 924,1257.3 928.3,1257.3 L950.3,1241.8 L959.4,1232.7 L989.2,1217.2 L1004.7,1206.8 C1008,1204.5 1011,1203.6 1013.7,1203.6 L1020.2,1205.5" fill="none" stroke="#000" stroke-width="3.6" />
<path d="M987.2,1217.5 L1003.2,1207 C1006,1205 1009,1203.6 1011.3,1203.4 L1020.1,1205.8 L1012.9,1243.9 L1005.7,1237.5 L1010.5,1213.2 L997,1221.5 C995,1222.6 993.5,1224 993.4,1225.5 L988.2,1223 Z" fill="#000" stroke="#000" stroke-width="2" />
<path d="M987.6,1218.5 C987.6,1223 989.5,1227.5 993,1231 C997,1235 1005,1240.5 1012.9,1244.7" fill="none" stroke="#000" stroke-width="4.8" />
<path d="M1012.9,1244.7 C1018,1247.5 1023,1250 1027.3,1251.2 C1030,1251.8 1033,1252 1035.3,1251.6 C1038.5,1251 1041.2,1249.4 1043.4,1247.1 C1046,1244.5 1048.2,1241.5 1049.8,1238.3 L1051.4,1234.3" fill="none" stroke="#000" stroke-width="3.6" />
<path d="M1051.3,1235.3 C1055,1241 1057.5,1246 1059,1252.1 C1061,1258 1062,1264 1061.6,1270.2 C1061,1277 1058.5,1283 1055.2,1287 L1004.7,1316.8" fill="none" stroke="#000" stroke-width="3.6" />
<path d="M1004.7,1316.8 C998,1314 990,1315 985.3,1319.4 C980,1323.5 976,1327 972.3,1329.8 C966,1335.5 959,1341 952.9,1344 L906.3,1376.3" fill="none" stroke="#000" stroke-width="3.6" />
<path d="M985.5,1319.5 C990,1313.5 999,1312.5 1003.6,1316.5 C1000,1321.5 991,1323.5 985.5,1319.5 Z" fill="#000" stroke="#000" stroke-width="1.2" />
<path d="M906.3,1265.7 C914,1268.5 921,1273 927,1278 C933,1284 938.5,1292 942.6,1300 C947,1308.5 950,1317 951.6,1325.9 C952.8,1332 953.2,1338 952.9,1344" fill="none" stroke="#000" stroke-width="3.6" />
<path d="M852.6,1292.2 C848.5,1296 845.6,1301 844.2,1306.5 C843,1310.5 842.6,1315 842.9,1319.4 C843.5,1327 845.3,1335 848.1,1342.7 C851.5,1351 856.5,1358.5 862.3,1364.7 C868,1370.5 874.5,1375 881.8,1377.6 C887,1379.5 892.3,1380.2 897.3,1379.6 C901.3,1379 904.8,1377.5 907.6,1375 C911.5,1371.5 913.8,1367 914.8,1362.1 C915.8,1356.5 915.9,1351 915.4,1345.3 C914.5,1337.5 911.5,1329.5 907.6,1322 C904,1315.5 899.7,1309.5 894.7,1303.9 C890.7,1299.7 886.3,1296 881.8,1293.5 L875.3,1291.5" fill="none" stroke="#000" stroke-width="3.6" />
<path d="M874,1345.9 C878,1350 883,1353 888.2,1354.3 C893.5,1355.4 899,1354.6 903.8,1352.4" fill="none" stroke="#000" stroke-width="2.8" />
<path d="M846.8,1275.4 L868.8,1312.9 C870.5,1315 872.5,1315 874,1314.2 L875.3,1309 L872.9,1292.5 L879.8,1287.5 L866.2,1267.6" fill="#fff" stroke="#000" stroke-width="3.4" />
<ellipse cx="857.0" cy="1271.6" rx="10.3" ry="6.6" fill="#fff" stroke="#000" stroke-width="3.4" transform="rotate(-22 857.0 1271.6)"/>
<path d="M928.6,1257.6 L947.1,1239.9 L956.7,1233.5 C960,1232.6 963.5,1232.6 967.1,1233.1 C971,1233.7 974.8,1234.9 977.6,1236.7 C980.6,1238.6 982.8,1241.4 984,1244.7 C985.4,1248.2 986.4,1252 986.4,1256 C986.4,1260 985,1264 983.2,1267.2 C981.2,1270.4 978.5,1273 975.2,1274.4 C972,1275.8 968.3,1276.2 964.7,1276 C961,1275.6 957,1274 953.5,1272 L939.1,1265.6 Z" fill="#000" stroke="#000" stroke-width="2.5" />
<path d="M947.6,1245.6 L957,1238.6 C960,1237 964,1236.6 967,1237 C970.5,1237.5 974,1238.6 976.3,1240.3 C978.8,1242.2 980.4,1244.5 981.2,1247.2 C982.3,1250 982.8,1253 982.6,1256 C982.4,1259.5 981.5,1263 980,1265.6 C978.5,1268.2 976.5,1270.3 974,1271.4 C971.2,1272.5 968,1272.7 965,1272.5 L959.2,1271 Z" fill="#fff" stroke="#fff" stroke-width="0.5" />
<path d="M956.8,1238.2 L961.6,1258.6" fill="none" stroke="#000" stroke-width="6.6" />
<path d="M960.8,1240 L964,1258.5" fill="none" stroke="#000" stroke-width="4.2" />
<path d="M965,1241.5 L973.6,1271" fill="none" stroke="#000" stroke-width="3.6" />
<path d="M975.2,1244.7 L977.6,1261.2" fill="none" stroke="#000" stroke-width="4.6" />
<path d="M979.8,1247.5 C981,1252 981,1257 980.4,1261" fill="none" stroke="#000" stroke-width="1.6" />
<path d="M1326,760 L1327.5,766.4 L1325.8,773 L1325,780 L1325.4,787.4 L1327,792 L1329,795.4 L1334.8,799.7 C1345,803.5 1357,806 1368.8,807 L1387,807.7 L1393.5,803.3 L1398.6,796 L1400.4,788.8 L1401.4,782.3 L1401.4,772 L1400,764 Z" fill="#000" stroke="#000" stroke-width="2.0" />
<path d="M1331.2,770 C1340,775 1349,779 1358,781.6 C1367,784 1375,785.4 1383.3,786 C1388,786.2 1393,785.4 1396.4,783.8" fill="none" stroke="#fff" stroke-width="1.7" />
<path d="M1330.4,777.2 C1339,782 1349,785.6 1358,788.1 C1367,790.5 1375,792 1383.3,792.5 C1388,792.7 1392.5,791.5 1395.7,789.6" fill="none" stroke="#fff" stroke-width="1.7" />
<path d="M1329,783 C1338,787.5 1348,791 1358,793.9 C1367,796.3 1375,797.8 1383.3,798.3 C1388,798.5 1392,797.2 1394.9,795.4" fill="none" stroke="#fff" stroke-width="1.6" />
<path d="M1434,298.9 C1410,340 1385,400 1363.7,480 C1352,530 1343,585 1338.7,610.4 C1334,650 1330,686.5 1323.5,751.7 L1323.2,755 C1323.2,760.5 1325,764 1329,765.9 C1340,770 1353,772.9 1365.2,774.1 L1399.5,775.8 C1404.8,775.8 1408.8,772 1410.8,765 L1411.6,760.4 C1418,725 1427.8,686.5 1444.1,621.3 C1452,590 1460.4,545.2 1472.4,480 C1477,450 1480,420 1483.7,390.8" fill="#fff" stroke="#000" stroke-width="3.5" />
<path d="M1483.5,386 C1484,396 1494,404 1506,402 C1514,400.5 1521,396 1524,392" fill="none" stroke="#000" stroke-width="3.5" />
<path d="M1512,398.5 C1517,397 1521,394.5 1523.5,391.5" fill="none" stroke="#000" stroke-width="2.4" />
<path d="M1457.6,338 C1446,332 1436,318 1434,298.9 C1431,275 1433,255 1439,239.3 C1446,215 1460,196 1478.8,182.1 C1503,165 1533,157 1565.7,156.8 C1594,157 1620,165 1640.2,179.6 C1657,192 1670,208 1677.5,226.8 L1600,300 Z" fill="#fff" stroke="#000" stroke-width="3.5" />
<ellipse cx="1560" cy="279" rx="126" ry="84.5" fill="#fff" stroke="#000" stroke-width="3.5" transform="rotate(-28 1560 279)"/>
<ellipse cx="1573.2" cy="299.5" rx="126" ry="84.5" fill="#fff" stroke="#000" stroke-width="3.5" transform="rotate(-28 1573.2 299.5)"/>
<ellipse cx="1580.6" cy="249.2" rx="5.9" ry="5.0" fill="#000" transform="rotate(-28 1580.6 249.2)"/>
<ellipse cx="1611.7" cy="245.5" rx="5.9" ry="5.0" fill="#000" transform="rotate(-28 1611.7 245.5)"/>
<ellipse cx="1639.0" cy="248.7" rx="5.9" ry="5.0" fill="#000" transform="rotate(-28 1639.0 248.7)"/>
<ellipse cx="1657.1" cy="257.1" rx="5.9" ry="5.0" fill="#000" transform="rotate(-28 1657.1 257.1)"/>
<ellipse cx="1550.8" cy="266.6" rx="5.9" ry="5.0" fill="#000" transform="rotate(-28 1550.8 266.6)"/>
<ellipse cx="1576.9" cy="271.6" rx="5.9" ry="5.0" fill="#000" transform="rotate(-28 1576.9 271.6)"/>
<ellipse cx="1598.0" cy="263.6" rx="5.9" ry="5.0" fill="#000" transform="rotate(-28 1598.0 263.6)"/>
<ellipse cx="1619.1" cy="262.1" rx="5.9" ry="5.0" fill="#000" transform="rotate(-28 1619.1 262.1)"/>
<ellipse cx="1635.8" cy="266.6" rx="5.9" ry="5.0" fill="#000" transform="rotate(-28 1635.8 266.6)"/>
<ellipse cx="1646.5" cy="277.0" rx="5.9" ry="5.0" fill="#000" transform="rotate(-28 1646.5 277.0)"/>
<ellipse cx="1665.6" cy="272.0" rx="5.9" ry="5.0" fill="#000" transform="rotate(-28 1665.6 272.0)"/>
<ellipse cx="1530.4" cy="286.0" rx="5.9" ry="5.0" fill="#000" transform="rotate(-28 1530.4 286.0)"/>
<ellipse cx="1554.5" cy="282.7" rx="5.9" ry="5.0" fill="#000" transform="rotate(-28 1554.5 282.7)"/>
<ellipse cx="1578.9" cy="292.2" rx="5.9" ry="5.0" fill="#000" transform="rotate(-28 1578.9 292.2)"/>
<ellipse cx="1603.5" cy="285.2" rx="5.9" ry="5.0" fill="#000" transform="rotate(-28 1603.5 285.2)"/>
<ellipse cx="1624.1" cy="290.2" rx="5.9" ry="5.0" fill="#000" transform="rotate(-28 1624.1 290.2)"/>
<ellipse cx="1650.2" cy="290.2" rx="5.9" ry="5.0" fill="#000" transform="rotate(-28 1650.2 290.2)"/>
<ellipse cx="1665.6" cy="292.7" rx="5.9" ry="5.0" fill="#000" transform="rotate(-28 1665.6 292.7)"/>
<ellipse cx="1514.3" cy="302.1" rx="5.9" ry="5.0" fill="#000" transform="rotate(-28 1514.3 302.1)"/>
<ellipse cx="1536.6" cy="298.1" rx="5.9" ry="5.0" fill="#000" transform="rotate(-28 1536.6 298.1)"/>
<ellipse cx="1555.3" cy="308.8" rx="5.9" ry="5.0" fill="#000" transform="rotate(-28 1555.3 308.8)"/>
<ellipse cx="1596.0" cy="305.1" rx="5.9" ry="5.0" fill="#000" transform="rotate(-28 1596.0 305.1)"/>
<ellipse cx="1631.6" cy="304.3" rx="5.9" ry="5.0" fill="#000" transform="rotate(-28 1631.6 304.3)"/>
<ellipse cx="1647.0" cy="307.6" rx="5.9" ry="5.0" fill="#000" transform="rotate(-28 1647.0 307.6)"/>
<ellipse cx="1657.6" cy="315.0" rx="5.9" ry="5.0" fill="#000" transform="rotate(-28 1657.6 315.0)"/>
<ellipse cx="1523.0" cy="314.5" rx="5.9" ry="5.0" fill="#000" transform="rotate(-28 1523.0 314.5)"/>
<ellipse cx="1574.4" cy="315.8" rx="5.9" ry="5.0" fill="#000" transform="rotate(-28 1574.4 315.8)"/>
<ellipse cx="1611.2" cy="313.8" rx="5.9" ry="5.0" fill="#000" transform="rotate(-28 1611.2 313.8)"/>
<ellipse cx="1625.3" cy="323.7" rx="5.9" ry="5.0" fill="#000" transform="rotate(-28 1625.3 323.7)"/>
<ellipse cx="1637.0" cy="325.0" rx="5.9" ry="5.0" fill="#000" transform="rotate(-28 1637.0 325.0)"/>
<ellipse cx="1500.4" cy="323.7" rx="5.9" ry="5.0" fill="#000" transform="rotate(-28 1500.4 323.7)"/>
<ellipse cx="1516.0" cy="332.9" rx="5.9" ry="5.0" fill="#000" transform="rotate(-28 1516.0 332.9)"/>
<ellipse cx="1542.6" cy="329.4" rx="5.9" ry="5.0" fill="#000" transform="rotate(-28 1542.6 329.4)"/>
<ellipse cx="1565.0" cy="333.7" rx="5.9" ry="5.0" fill="#000" transform="rotate(-28 1565.0 333.7)"/>
<ellipse cx="1603.0" cy="331.2" rx="5.9" ry="5.0" fill="#000" transform="rotate(-28 1603.0 331.2)"/>
<ellipse cx="1640.7" cy="336.6" rx="5.9" ry="5.0" fill="#000" transform="rotate(-28 1640.7 336.6)"/>
<ellipse cx="1496.1" cy="345.3" rx="5.9" ry="5.0" fill="#000" transform="rotate(-28 1496.1 345.3)"/>
<ellipse cx="1516.5" cy="347.3" rx="5.9" ry="5.0" fill="#000" transform="rotate(-28 1516.5 347.3)"/>
<ellipse cx="1543.4" cy="346.1" rx="5.9" ry="5.0" fill="#000" transform="rotate(-28 1543.4 346.1)"/>
<ellipse cx="1578.6" cy="342.9" rx="5.9" ry="5.0" fill="#000" transform="rotate(-28 1578.6 342.9)"/>
<ellipse cx="1606.0" cy="341.9" rx="5.9" ry="5.0" fill="#000" transform="rotate(-28 1606.0 341.9)"/>
<ellipse cx="1621.6" cy="340.4" rx="5.9" ry="5.0" fill="#000" transform="rotate(-28 1621.6 340.4)"/>
<ellipse cx="1501.1" cy="361.0" rx="5.9" ry="5.0" fill="#000" transform="rotate(-28 1501.1 361.0)"/>
<ellipse cx="1524.2" cy="359.0" rx="5.9" ry="5.0" fill="#000" transform="rotate(-28 1524.2 359.0)"/>
<ellipse cx="1557.8" cy="354.8" rx="5.9" ry="5.0" fill="#000" transform="rotate(-28 1557.8 354.8)"/>
<ellipse cx="1580.6" cy="354.0" rx="5.9" ry="5.0" fill="#000" transform="rotate(-28 1580.6 354.0)"/>
<ellipse cx="1600.5" cy="354.3" rx="5.9" ry="5.0" fill="#000" transform="rotate(-28 1600.5 354.3)"/>
<ellipse cx="1617.4" cy="354.8" rx="5.9" ry="5.0" fill="#000" transform="rotate(-28 1617.4 354.8)"/>
<ellipse cx="1514.8" cy="374.7" rx="5.9" ry="5.0" fill="#000" transform="rotate(-28 1514.8 374.7)"/>
<ellipse cx="1537.1" cy="366.5" rx="5.9" ry="5.0" fill="#000" transform="rotate(-28 1537.1 366.5)"/>
<ellipse cx="1557.0" cy="368.4" rx="5.9" ry="5.0" fill="#000" transform="rotate(-28 1557.0 368.4)"/>
<ellipse cx="1578.1" cy="364.7" rx="5.9" ry="5.0" fill="#000" transform="rotate(-28 1578.1 364.7)"/>
<ellipse cx="1589.8" cy="370.9" rx="5.9" ry="5.0" fill="#000" transform="rotate(-28 1589.8 370.9)"/>
<ellipse cx="1536.6" cy="380.4" rx="5.9" ry="5.0" fill="#000" transform="rotate(-28 1536.6 380.4)"/>
<ellipse cx="1561.5" cy="379.1" rx="5.9" ry="5.0" fill="#000" transform="rotate(-28 1561.5 379.1)"/>
<path d="M1339.9,882.8 C1341,877 1347,873.7 1354.7,873.7 C1362,873.7 1368,877 1368.9,882.8 L1368.3,911.3 L1371.2,914.7 L1371.2,932.9 C1372.3,936 1372.6,939 1372.3,942 C1372.3,946 1371.5,950 1369.5,953.4 C1367,958 1363.5,961 1359.2,962.5 C1355,964 1350,964.8 1345.6,964.8 C1341.5,964.8 1337.5,964.2 1334.2,963.1 C1329,961.3 1325,958.5 1322.8,954.5 C1320.8,951 1319.9,946.5 1319.9,942 C1320,938.5 1320.8,935.5 1322.2,932.9 L1327.3,928.3 L1327.9,918.1 L1334.2,913.5 L1336.4,897.6 Z" fill="#000" stroke="#000" stroke-width="1.6" />
<path d="M1346.2,886.5 C1346.5,882 1351,879.8 1355.5,879.8 C1360,880 1363,882 1363.5,885" fill="none" stroke="#fff" stroke-width="1.1" />
<path d="M1347.5,889 C1350,891 1354,891.6 1358,891" fill="none" stroke="#fff" stroke-width="0.9" />
<path d="M1326.2,942.5 C1329,950 1338,954.5 1345.6,954.5 C1355,954.5 1364,951 1368.3,946.6" fill="none" stroke="#fff" stroke-width="1.0" />
<path d="M1331.8,921.5 L1330.6,937" fill="none" stroke="#fff" stroke-width="2.0" />
<path d="M1367.4,917.5 L1366.8,933.5" fill="none" stroke="#fff" stroke-width="2.0" />
<path d="M1356.3,896.5 L1354.8,926" fill="none" stroke="#fff" stroke-width="2.4" style="stroke-dasharray:1.1 1.2;stroke-linecap:butt"/>
<ellipse cx="1344.4" cy="1039.3" rx="24.3" ry="12.1" fill="none" stroke="#000" stroke-width="4.6"/>
<path d="M1318.6,1047 C1321,1056 1333,1060.6 1344.4,1060.6 C1357,1060.6 1368,1056 1370.3,1047.8" fill="none" stroke="#000" stroke-width="3.8" />
<path d="M1325.4,1040 C1326.5,1034.5 1335,1031.2 1344.4,1031.2 C1354,1031.2 1362.5,1034.5 1363.4,1040 L1361.5,1040.6 C1357.5,1037 1351,1035.6 1344.4,1035.6 C1338,1035.6 1331.5,1037 1327.4,1040.6 Z" fill="#000" stroke="#000" stroke-width="0.5" />
<path d="M1318.2,1205.0 L1318.2,1206.0 L1318.2,1207.0 L1318.2,1208.0 L1318.2,1209.0 L1318.2,1210.0 L1318.2,1211.0 L1318.2,1212.0 L1318.2,1213.0 L1318.2,1214.0 L1318.2,1215.0 L1318.2,1216.0 L1318.2,1217.0 L1318.2,1218.0 L1318.2,1219.0 L1318.2,1220.0 L1318.2,1221.0 L1318.2,1222.0 L1318.2,1223.0 L1318.2,1224.0 L1318.2,1225.0 L1318.2,1226.0 L1318.2,1227.0 L1318.2,1228.0 L1318.2,1229.0 L1318.2,1230.0 L1318.2,1231.0 L1318.2,1232.0 L1318.2,1233.0 L1318.2,1234.0 L1318.2,1235.0 L1318.2,1236.0 L1318.2,1237.0 L1318.2,1238.0 L1318.2,1239.0 L1318.2,1240.0 L1318.2,1241.0 L1318.2,1242.0 L1318.2,1243.0 L1318.2,1244.0 L1318.2,1245.0 L1318.2,1246.0 L1318.2,1247.0 L1318.2,1248.0 L1318.2,1249.0 L1318.2,1250.0 L1318.2,1251.0 L1318.2,1252.0 L1318.2,1253.0 L1318.2,1254.0 L1318.2,1255.0 L1318.2,1256.0 L1318.3,1257.0 L1318.3,1258.0 L1318.3,1259.0 L1318.3,1260.0 L1318.3,1261.0 L1318.3,1262.0 L1318.3,1263.0 L1318.3,1264.0 L1318.3,1265.0 L1318.3,1266.0 L1318.3,1267.0 L1318.3,1268.0 L1318.3,1269.0 L1318.3,1270.0 L1318.3,1271.0 L1318.3,1272.0 L1318.3,1273.0 L1318.3,1274.0 L1318.3,1275.0 L1318.3,1276.0 L1318.3,1277.0 L1318.3,1278.0 L1318.3,1279.0 L1318.3,1280.0 L1318.3,1281.0 L1318.3,1282.0 L1318.3,1283.0 L1318.3,1284.0 L1318.3,1285.0 L1318.3,1286.0 L1318.3,1287.0 L1318.3,1288.0 L1318.3,1289.0 L1318.3,1290.0 L1318.3,1291.0 L1318.3,1292.0 L1318.3,1293.0 L1318.3,1294.0 L1318.3,1295.0 L1318.3,1296.0 L1318.3,1297.0 L1318.3,1298.0 L1318.3,1299.0 L1318.3,1300.0 L1318.3,1301.0 L1318.3,1302.0 L1318.3,1303.0 L1318.3,1304.0 L1318.3,1305.0 L1318.3,1306.0 L1318.3,1307.0 L1318.3,1308.0 L1318.3,1309.0 L1318.3,1310.0 L1318.3,1311.0 L1318.3,1312.0 L1318.3,1313.0 L1318.3,1314.0 L1318.3,1315.0 L1318.3,1316.0 L1318.3,1317.0 L1318.3,1318.0 L1318.3,1319.0 L1318.3,1320.0 L1318.3,1321.0 L1318.3,1322.0 L1318.3,1323.0 L1318.3,1324.0 L1318.3,1325.0 L1318.3,1326.0 L1318.3,1327.0 L1318.3,1328.0 L1318.3,1329.0 L1318.3,1330.0 L1318.3,1331.0 L1318.3,1332.0 L1318.3,1333.0 L1318.3,1334.0 L1318.3,1335.0 L1318.3,1336.0 L1318.3,1337.0 L1318.3,1338.0 L1318.3,1339.0 L1318.3,1340.0 L1318.3,1341.0 L1318.3,1342.0 L1318.3,1343.0 L1318.3,1344.0 L1318.3,1345.0 L1318.3,1346.0 L1318.3,1347.0 L1318.3,1348.0 L1318.3,1349.0 L1318.3,1350.0 L1318.3,1351.0 L1318.3,1352.0 L1318.3,1353.0 L1318.3,1354.0 L1318.3,1355.0 L1318.3,1356.0 L1318.3,1357.0 L1318.3,1358.0 L1318.3,1359.0 L1318.3,1360.0 L1318.3,1361.0 L1318.3,1362.0 L1318.3,1363.0 L1318.3,1364.0 L1318.3,1365.0 L1318.3,1366.0 L1318.3,1367.0 L1318.3,1368.0 L1318.3,1369.0 L1318.3,1370.0 L1318.3,1371.0 L1318.3,1372.0 L1318.3,1373.0 L1318.3,1374.0 L1318.3,1375.0 L1318.3,1376.0 L1318.3,1377.0 L1318.4,1378.0 L1318.4,1379.0 L1318.4,1380.0 L1318.4,1381.0 L1318.4,1382.0 L1318.4,1383.0 L1318.4,1384.0 L1318.4,1385.0 L1318.4,1386.0 L1318.4,1387.0 L1318.4,1388.0 L1318.4,1389.0 L1318.4,1390.0 L1318.4,1391.0 L1318.4,1392.0 L1318.4,1393.0 L1318.4,1394.0 L1318.4,1395.0 L1318.4,1396.0 L1318.4,1397.0 L1318.4,1398.0 L1318.4,1399.0 L1318.4,1400.0 L1318.4,1401.0 L1318.4,1402.0 L1318.4,1403.0 L1318.4,1404.0 L1318.4,1405.0 L1318.4,1406.0 L1318.4,1407.0 L1318.4,1408.0 L1318.4,1409.0 L1318.4,1410.0 L1318.4,1411.0 L1318.4,1412.0 L1318.4,1413.0 L1318.4,1414.0 L1318.4,1415.0 L1318.4,1416.0 L1318.4,1417.0 L1318.4,1418.0 L1318.4,1419.0 L1318.4,1420.0 L1318.4,1421.0 L1318.4,1422.0 L1318.4,1423.0 L1318.4,1424.0 L1318.4,1425.0 L1318.4,1426.0 L1318.4,1427.0 L1318.4,1428.0 L1318.4,1429.0 L1318.4,1430.0 L1318.4,1431.0 L1318.4,1432.0 L1318.4,1433.0 L1318.4,1434.0 L1318.4,1435.0 L1318.4,1436.0 L1318.4,1437.0 L1318.4,1438.0 L1318.4,1439.0 L1318.4,1440.0 L1318.4,1441.0 L1318.4,1442.0 L1318.4,1443.0 L1318.4,1444.0 L1318.4,1445.0 L1318.4,1446.0 L1318.4,1447.0 L1318.4,1448.0 L1318.4,1449.0 L1318.4,1450.0 L1318.4,1451.0 L1318.4,1452.0 L1318.4,1453.0 L1318.4,1454.0 L1318.4,1455.0 L1318.4,1456.0 L1318.4,1457.0 L1318.4,1458.0 L1318.4,1459.0 L1318.4,1460.0 L1318.4,1461.0 L1318.4,1462.0 L1318.4,1463.0 L1318.4,1464.0 L1318.4,1465.0 L1318.4,1466.0 L1318.4,1467.0 L1318.4,1468.0 L1318.4,1469.0 L1318.4,1470.0 L1318.4,1471.0 L1318.4,1472.0 L1318.4,1473.0 L1318.4,1474.0 L1318.4,1475.0 L1318.4,1476.0 L1318.4,1477.0 L1318.4,1478.0 L1318.4,1479.0 L1318.4,1480.0 L1318.4,1481.0 L1318.4,1482.0 L1318.4,1483.0 L1318.4,1484.0 L1318.4,1485.0 L1318.4,1486.0 L1318.4,1487.0 L1318.4,1488.0 L1318.4,1489.0 L1318.4,1490.0 L1318.4,1491.0 L1318.4,1492.0 L1318.4,1493.0 L1318.4,1494.0 L1318.4,1495.0 L1318.4,1496.0 L1318.4,1497.0 L1318.4,1498.0 L1318.4,1499.0 L1318.4,1500.0 L1318.4,1501.0 L1318.4,1502.0 L1318.4,1503.0 L1318.4,1504.0 L1318.4,1505.0 L1318.4,1506.0 L1318.4,1507.0 L1318.4,1508.0 L1318.4,1509.0 L1318.4,1510.0 L1318.4,1511.0 L1318.4,1512.0 L1318.4,1513.0 L1318.4,1514.0 L1318.4,1515.0 L1318.4,1516.0 L1318.4,1517.0 L1318.3,1518.0 L1318.3,1519.0 L1318.3,1520.0 L1318.3,1521.0 L1318.3,1522.0 L1318.3,1523.0 L1318.3,1524.0 L1318.3,1525.0 L1318.3,1526.0 L1318.3,1527.0 L1318.3,1528.0 L1318.3,1529.0 L1318.3,1530.0 L1318.3,1531.0 L1318.3,1532.0 L1318.3,1533.0 L1318.3,1534.0 L1318.3,1535.0 L1318.3,1536.0 L1318.3,1537.0 L1318.3,1538.0 L1318.3,1539.0 L1318.3,1540.0 L1318.3,1541.0 L1318.3,1542.0 L1318.3,1543.0 L1318.3,1544.0 L1318.3,1545.0 L1318.3,1546.0 L1318.3,1547.0 L1318.3,1548.0 L1318.3,1549.0 L1318.3,1550.0 L1318.3,1551.0 L1318.3,1552.0 L1318.3,1553.0 L1318.3,1554.0 L1318.3,1555.0 L1318.3,1556.0 L1318.3,1557.0 L1318.3,1558.0 L1318.3,1559.0 L1318.3,1560.0 L1318.3,1561.0 L1318.3,1562.0 L1318.3,1563.0 L1318.3,1564.0 L1318.3,1565.0 L1318.3,1566.0 L1318.3,1567.0 L1318.3,1568.0 L1318.3,1569.0 L1318.3,1570.0 L1318.3,1571.0 L1318.3,1572.0 L1318.3,1573.0 L1318.3,1574.0 L1318.3,1575.0 L1318.3,1576.0 L1318.3,1577.0 L1318.3,1578.0 L1318.3,1579.0 L1318.3,1580.0 L1318.3,1581.0 L1318.3,1582.0 L1318.3,1583.0 L1318.3,1584.0 L1318.3,1585.0 L1318.3,1586.0 L1318.3,1587.0 L1318.3,1588.0 L1318.3,1589.0 L1318.3,1590.0 L1318.3,1591.0 L1318.3,1592.0 L1318.3,1593.0 L1318.3,1594.0 L1318.3,1595.0 L1318.3,1596.0 L1318.3,1597.0 L1318.3,1598.0 L1318.3,1599.0 L1318.3,1600.0 L1318.3,1601.0 L1318.3,1602.0 L1318.3,1603.0 L1318.3,1604.0 L1318.3,1605.0 L1318.3,1606.0 L1318.3,1607.0 L1318.3,1608.0 L1318.3,1609.0 L1318.3,1610.0 L1318.3,1611.0 L1318.3,1612.0 L1318.3,1613.0 L1318.3,1614.0 L1318.3,1615.0 L1318.3,1616.0 L1318.3,1617.0 L1318.3,1618.0 L1318.3,1619.0 L1318.3,1620.0 L1318.3,1621.0 L1318.3,1622.0 L1318.3,1623.0 L1318.3,1624.0 L1318.3,1625.0 L1318.3,1626.0 L1318.3,1627.0 L1318.3,1628.0 L1318.3,1629.0 L1318.3,1630.0 L1318.3,1631.0 L1318.3,1632.0 L1318.3,1633.0 L1318.3,1634.0 L1318.3,1635.0 L1318.3,1636.0 L1318.3,1637.0 L1318.3,1638.0 L1318.3,1639.0 L1318.3,1640.0 L1318.3,1641.0 L1318.3,1642.0 L1318.3,1643.0 L1318.3,1644.0 L1318.3,1645.0 L1318.3,1646.0 L1318.3,1647.0 L1318.3,1648.0 L1318.3,1649.0 L1318.3,1650.0 L1318.3,1651.0 L1318.3,1652.0 L1318.3,1653.0 L1318.3,1654.0 L1318.3,1655.0 L1318.4,1656.0 L1318.4,1657.0 L1318.4,1658.0 L1318.4,1659.0 L1318.4,1660.0 L1318.4,1661.0 L1318.4,1662.0 L1318.4,1663.0 L1318.4,1664.0 L1318.4,1665.0 L1318.4,1666.0 L1318.4,1667.0 L1318.4,1668.0 L1318.4,1669.0 L1318.4,1670.0 L1318.4,1671.0 L1318.4,1672.0 L1318.4,1673.0 L1318.4,1674.0 L1318.4,1675.0 L1318.4,1676.0 L1318.4,1677.0 L1318.4,1678.0 L1318.4,1679.0 L1318.4,1680.0 L1318.4,1681.0 L1318.4,1682.0 L1318.4,1683.0 L1318.4,1684.0 L1318.4,1685.0 L1318.4,1686.0 L1318.4,1687.0 L1318.4,1688.0 L1318.4,1689.0 L1318.4,1690.0 L1318.4,1691.0 L1318.4,1692.0 L1318.4,1693.0 L1318.4,1694.0 L1318.4,1695.0 L1318.4,1696.0 L1318.4,1697.0 L1318.4,1698.0 L1318.4,1699.0 L1318.4,1700.0 L1318.4,1701.0 L1318.4,1702.0 L1318.4,1703.0 L1318.4,1704.0 L1318.4,1705.0 L1318.4,1706.0 L1318.4,1707.0 L1318.4,1708.0 L1318.4,1709.0 L1318.4,1710.0 L1318.4,1711.0 L1318.4,1712.0 L1318.4,1713.0 L1318.4,1714.0 L1318.4,1715.0 L1318.4,1716.0 L1318.4,1717.0 L1318.4,1718.0 L1318.4,1719.0 L1318.4,1720.0 L1318.4,1721.0 L1318.4,1722.0 L1318.4,1723.0 L1318.4,1724.0 L1318.4,1725.0 L1318.4,1726.0 L1318.4,1727.0 L1318.4,1728.0 L1318.4,1729.0 L1318.4,1730.0 L1318.4,1731.0 L1318.4,1732.0 L1318.4,1733.0 L1318.4,1734.0 L1318.4,1735.0 L1318.4,1736.0 L1318.4,1737.0 L1318.4,1738.0 L1318.4,1739.0 L1318.4,1740.0 L1318.4,1741.0 L1318.4,1742.0 L1318.4,1743.0 L1318.4,1744.0 L1318.4,1745.0 L1318.4,1746.0 L1318.4,1747.0 L1318.4,1748.0 L1318.4,1749.0 L1318.4,1750.0 L1318.4,1750.9 L1318.4,1751.9 L1318.4,1752.9 L1318.4,1753.9 L1318.4,1754.9 L1318.4,1755.9 L1318.4,1756.9 L1318.4,1757.9 L1318.4,1758.9 L1318.4,1759.9 L1318.4,1760.9 L1318.4,1761.9 L1318.4,1762.9 L1318.3,1763.9 L1318.3,1764.9 L1318.3,1765.9 L1318.3,1766.9 L1318.3,1767.9 L1318.3,1768.9 L1318.3,1769.9 L1318.3,1770.9 L1318.3,1771.9 L1318.3,1772.9 L1318.3,1773.9 L1318.3,1774.9 L1318.3,1775.9 L1318.3,1776.9 L1318.3,1777.9 L1318.3,1778.8 L1318.3,1779.8 L1318.3,1780.8 L1318.3,1781.8 L1318.2,1782.8 L1318.2,1783.8 L1318.2,1784.8 L1318.2,1785.8 L1318.2,1786.8 L1318.2,1787.8 L1318.2,1788.8 L1318.2,1789.7 L1318.2,1790.7 L1318.2,1791.7 L1318.1,1792.7 L1318.1,1793.7 L1318.1,1794.7 L1318.1,1795.6 L1318.1,1796.6 L1318.1,1797.6 L1318.0,1798.5 L1318.0,1799.5 L1318.0,1800.4 L1318.0,1801.3 L1317.9,1802.2 L1317.9,1803.1 L1317.9,1803.9 L1317.8,1804.7 L1317.8,1805.3 L1317.8,1805.6 L1317.7,1806.0 L1317.6,1806.8 L1317.4,1808.1 L1317.2,1809.6 L1317.1,1811.0 L1317.0,1812.2 L1316.9,1813.4 L1316.8,1814.4 L1316.7,1815.4 L1316.6,1816.4 L1316.6,1817.4 L1316.5,1818.4 L1316.4,1819.3 L1316.4,1820.3 L1316.3,1821.2 L1316.2,1822.2 L1316.1,1823.1 L1316.0,1824.1 L1316.0,1825.0 L1315.9,1825.9 L1315.8,1826.9 L1315.7,1827.8 L1315.6,1828.7 L1315.5,1829.6 L1315.4,1830.5 L1315.3,1831.3 L1315.2,1832.2 L1315.1,1833.1 L1315.0,1833.9 L1314.8,1834.8 L1314.7,1835.6 L1314.6,1836.4 L1314.4,1837.2 L1314.3,1838.0 L1314.1,1838.8 L1314.0,1839.6 L1313.8,1840.4 L1313.7,1841.2 L1313.5,1842.0 L1313.3,1842.8 L1313.1,1843.5 L1312.9,1844.3 L1312.7,1845.1 L1312.5,1845.9 L1312.2,1846.7 L1312.0,1847.5 L1311.8,1848.4 L1311.5,1849.2 L1311.3,1850.0 L1311.0,1850.8 L1310.7,1851.6 L1310.4,1852.5 L1310.1,1853.3 L1309.9,1854.1 L1309.6,1855.0 L1309.2,1855.8 L1308.9,1856.7 L1308.6,1857.6 L1308.3,1858.4 L1308.0,1859.2 L1307.7,1860.0 L1307.4,1860.8 L1307.1,1861.5 L1306.8,1862.1 L1306.5,1862.8 L1306.2,1863.5 L1305.9,1864.1 L1305.5,1864.9 L1305.1,1865.6 L1304.7,1866.4 L1304.3,1867.3 L1303.9,1868.2 L1303.4,1869.1 L1302.9,1870.0 L1302.5,1870.9 L1302.0,1871.8 L1301.6,1872.7 L1301.1,1873.7 L1300.6,1874.6 L1300.2,1875.5 L1299.7,1876.5 L1299.2,1877.5 L1298.7,1878.5 L1298.3,1879.4 L1297.8,1880.4 L1297.4,1881.3 L1296.9,1882.3 L1296.5,1883.2 L1296.1,1884.1 L1295.6,1885.1 L1295.2,1886.0 L1294.8,1886.9 L1294.4,1887.8 L1294.0,1888.7 L1293.6,1889.6 L1293.1,1890.5 L1292.7,1891.4 L1292.3,1892.3 L1291.9,1893.1 L1291.5,1894.0 L1291.1,1894.9 L1290.7,1895.8 L1290.2,1896.6 L1289.8,1897.5 L1289.4,1898.4 L1289.0,1899.2 L1288.6,1900.1 L1288.2,1900.9 L1287.8,1901.8 L1287.3,1902.6 L1286.9,1903.4 L1286.5,1904.3 L1286.1,1905.1 L1285.7,1905.9 L1285.2,1906.8 L1284.8,1907.6 L1284.4,1908.4 L1284.0,1909.2 L1283.5,1910.0 L1283.1,1910.8 L1282.7,1911.6 L1282.2,1912.3 L1281.8,1913.1 L1281.4,1913.9 L1280.9,1914.6 L1280.5,1915.4 L1280.1,1916.1 L1279.6,1916.9 L1279.2,1917.6 L1278.7,1918.3 L1278.2,1919.0 L1277.7,1919.8 L1277.2,1920.6 L1276.7,1921.4 L1276.2,1922.2 L1275.7,1922.9 L1275.2,1923.7 L1274.7,1924.5 L1274.1,1925.3 L1273.6,1926.0 L1273.1,1926.8 L1272.6,1927.6 L1272.0,1928.3 L1271.5,1929.1 L1271.0,1929.9 L1270.4,1930.6 L1269.9,1931.4 L1269.3,1932.1 L1268.8,1932.9 L1268.2,1933.6 L1267.7,1934.4 L1267.1,1935.1 L1266.6,1935.9 L1266.0,1936.6 L1265.5,1937.4 L1264.9,1938.1 L1264.3,1938.8 L1263.8,1939.6 L1263.2,1940.3 L1262.6,1941.0 L1262.1,1941.8 L1261.5,1942.5 L1260.9,1943.2 L1260.3,1943.9 L1259.7,1944.6 L1259.2,1945.4 L1258.6,1946.1 L1258.0,1946.8 L1257.4,1947.5 L1256.8,1948.2 L1256.2,1948.9 L1255.6,1949.6 L1255.0,1950.2 L1254.4,1950.9 L1253.8,1951.6 L1253.2,1952.3 L1252.6,1953.0 L1252.0,1953.6 L1251.4,1954.3 L1250.8,1954.9 L1250.2,1955.6 L1249.6,1956.2 L1248.9,1956.9 L1248.3,1957.5 L1247.7,1958.2 L1247.1,1958.8 L1246.5,1959.4 L1245.8,1960.0 L1245.2,1960.7 L1244.5,1961.3 L1243.9,1961.9 L1243.3,1962.5 L1242.6,1963.1 L1241.9,1963.7 L1241.3,1964.3 L1240.6,1965.0 L1239.9,1965.6 L1239.3,1966.2 L1238.6,1966.8 L1237.9,1967.3 L1237.2,1967.9 L1236.6,1968.5 L1235.9,1969.1 L1235.2,1969.7 L1234.5,1970.3 L1233.8,1970.9 L1233.1,1971.4 L1232.4,1972.0 L1231.7,1972.6 L1231.0,1973.1 L1230.2,1973.7 L1229.5,1974.3 L1228.8,1974.8 L1228.1,1975.4 L1227.4,1975.9 L1226.6,1976.5 L1225.9,1977.0 L1225.2,1977.6 L1224.4,1978.1 L1223.7,1978.7 L1222.9,1979.2 L1222.2,1979.7 L1221.5,1980.3 L1220.7,1980.8 L1220.0,1981.3 L1219.2,1981.8 L1218.5,1982.4 L1217.7,1982.9 L1217.0,1983.4 L1216.2,1983.9 L1215.4,1984.4 L1214.7,1984.9 L1213.9,1985.4 L1213.2,1985.9 L1212.4,1986.3 L1211.7,1986.8 L1210.9,1987.3 L1210.2,1987.7 L1209.4,1988.2 L1208.6,1988.7 L1207.9,1989.1 L1207.1,1989.6 L1206.3,1990.0 L1205.6,1990.4 L1204.8,1990.9 L1204.0,1991.3 L1203.3,1991.7 L1202.5,1992.1 L1201.7,1992.5 L1200.9,1992.9 L1200.2,1993.3 L1199.4,1993.7 L1198.6,1994.1 L1197.8,1994.5 L1197.0,1994.9 L1196.3,1995.2 L1195.5,1995.6 L1194.7,1995.9 L1193.9,1996.3 L1193.1,1996.6 L1192.4,1997.0 L1191.6,1997.3 L1190.8,1997.6 L1190.0,1997.9 L1189.3,1998.2 L1188.5,1998.5 L1187.7,1998.8 L1187.0,1999.1 L1186.2,1999.4 L1185.4,1999.6 L1184.7,1999.9 L1183.9,2000.1 L1183.2,2000.4 L1182.4,2000.6 L1181.7,2000.8 L1181.0,2001.0 L1180.3,2001.2 L1179.6,2001.3 L1178.8,2001.5 L1178.1,2001.7 L1177.4,2001.8 L1176.6,2002.0 L1175.9,2002.1 L1175.2,2002.2 L1174.4,2002.3 L1173.7,2002.4 L1173.0,2002.5 L1172.2,2002.6 L1171.5,2002.7 L1170.7,2002.8 L1170.0,2002.8 L1169.2,2002.9 L1168.5,2002.9 L1167.7,2002.9 L1167.0,2003.0 L1166.2,2003.0 L1165.5,2003.0 L1164.7,2003.0 L1163.9,2003.0 L1163.2,2003.0 L1162.4,2002.9 L1161.6,2002.9 L1160.9,2002.8 L1160.1,2002.8 L1159.3,2002.7 L1158.6,2002.6 L1157.9,2002.6 L1157.2,2002.5 L1156.6,2002.4 L1155.9,2002.3 L1155.3,2002.2 L1154.6,2002.1 L1153.9,2001.9 L1153.3,2001.8 L1152.6,2001.6 L1152.0,2001.4 L1151.3,2001.3 L1150.6,2001.1 L1150.0,2000.9 L1149.3,2000.6 L1148.6,2000.4 L1148.0,2000.2 L1147.3,1999.9 L1146.6,1999.7 L1146.0,1999.4 L1145.3,1999.1 L1144.6,1998.8 L1144.0,1998.5 L1143.3,1998.2 L1142.6,1997.9 L1141.9,1997.5 L1141.3,1997.2 L1140.6,1996.9 L1139.9,1996.5 L1139.3,1996.1 L1138.6,1995.7 L1138.0,1995.4 L1137.4,1995.0 L1136.8,1994.6 L1136.2,1994.2 L1135.5,1993.8 L1134.9,1993.4 L1134.3,1993.0 L1133.8,1992.5 L1133.2,1992.1 L1132.6,1991.7 L1132.0,1991.2 L1131.5,1990.8 L1130.9,1990.3 L1130.4,1989.9 L1129.9,1989.4 L1129.4,1988.9 L1128.9,1988.4 L1128.4,1988.0 L1127.9,1987.5 L1127.4,1987.0 L1126.9,1986.5 L1126.5,1986.0 L1126.1,1985.5 L1125.6,1985.0 L1125.2,1984.5 L1124.8,1984.0 L1124.4,1983.5 L1124.0,1983.0 L1123.7,1982.4 L1123.3,1981.9 L1122.9,1981.3 L1122.5,1980.7 L1122.2,1980.1 L1121.8,1979.5 L1121.4,1978.9 L1121.1,1978.3 L1120.7,1977.7 L1120.4,1977.0 L1120.1,1976.4 L1119.8,1975.7 L1119.4,1975.1 L1119.1,1974.4 L1118.8,1973.7 L1118.5,1973.0 L1118.2,1972.3 L1117.9,1971.6 L1117.7,1970.9 L1117.4,1970.2 L1117.1,1969.4 L1116.9,1968.7 L1116.6,1968.0 L1116.4,1967.2 L1116.1,1966.5 L1115.9,1965.7 L1115.7,1965.0 L1115.5,1964.2 L1115.2,1963.4 L1115.0,1962.6 L1114.8,1961.7 L1114.6,1960.9 L1114.4,1960.1 L1114.2,1959.4 L1114.1,1958.6 L1113.9,1957.9 L1113.8,1957.2 L1113.7,1956.5 L1113.6,1955.9 L1113.5,1955.2 L1113.4,1954.5 L1113.3,1953.7 L1113.2,1953.0 L1113.1,1952.2 L1113.1,1951.4 L1113.0,1950.6 L1112.9,1949.7 L1112.9,1948.8 L1112.8,1947.9 L1112.8,1947.0 L1112.8,1946.1 L1112.7,1945.1 L1112.7,1944.2 L1112.6,1943.2 L1112.6,1942.2 L1112.6,1941.3 L1112.5,1940.3 L1112.5,1939.3 L1112.5,1938.3 L1112.4,1937.3 L1112.4,1936.4 L1112.4,1935.4 L1112.3,1934.4 L1112.3,1933.4 L1112.3,1932.5 L1112.3,1931.5 L1112.2,1930.6 L1112.2,1929.6 L1112.2,1928.6 L1112.2,1927.7 L1112.2,1926.7 L1112.2,1925.7 L1112.2,1924.7 L1112.1,1923.8 L1112.1,1922.8 L1112.1,1921.8 L1112.1,1920.8 L1112.1,1919.8 L1112.1,1918.9 L1112.1,1917.9 L1112.1,1916.9 L1112.1,1915.9 L1112.1,1914.9 L1112.1,1913.9 L1112.1,1913.0 L1112.1,1912.0 L1112.1,1911.0 L1112.1,1910.0 L1112.1,1909.0 L1112.1,1908.0 L1112.1,1907.0 L1112.1,1906.0 L1112.1,1905.0 L1112.1,1904.0 L1112.1,1903.0 L1112.1,1902.0 L1112.1,1901.1 L1112.1,1900.1 L1112.1,1899.1 L1112.1,1898.1 L1112.1,1897.1 L1112.1,1896.1 L1112.1,1895.1 L1112.1,1894.1 L1112.1,1893.1 L1112.1,1892.1 L1112.1,1891.1 L1112.1,1890.1 L1112.1,1889.1 L1112.1,1888.1 L1112.2,1887.1 L1112.2,1886.1 L1112.2,1885.1 L1112.2,1884.1 L1112.2,1883.1 L1112.2,1882.1 L1112.2,1881.1 L1112.2,1880.1 L1112.2,1879.1 L1112.2,1878.1 L1112.2,1877.1 L1112.2,1876.1 L1112.2,1875.1 L1112.2,1874.1 L1112.2,1873.1 L1112.2,1872.1 L1112.2,1871.1 L1112.2,1870.1 L1112.2,1869.1 L1112.3,1868.1 L1112.3,1867.1 L1112.3,1866.1 L1112.3,1865.1 L1112.3,1864.1 L1112.3,1863.1 L1112.3,1862.0 L1112.3,1861.0 L1112.3,1860.0 L1112.3,1859.0 L1112.3,1858.0 L1112.3,1857.0 L1112.3,1856.0 L1112.3,1855.0 L1112.3,1854.0 L1112.3,1853.0 L1112.3,1852.0 L1112.3,1851.0 L1112.3,1850.0 L1112.3,1849.0 L1112.3,1848.0 L1112.3,1847.0 L1112.3,1846.0 L1112.3,1845.0 L1112.3,1844.0 L1112.3,1843.0 L1112.3,1842.0 L1112.3,1841.0 L1112.3,1840.0 L1112.3,1839.0 L1112.3,1838.0 L1112.3,1837.0 L1112.3,1836.0 L1112.3,1835.0 L1112.3,1834.0 L1112.3,1833.0 L1112.3,1832.0 L1112.3,1831.0 L1112.3,1830.0 L1112.3,1829.0 L1112.3,1828.0 L1112.3,1827.0 L1112.3,1826.0 L1112.3,1825.0 L1112.3,1824.0 L1112.3,1823.0 L1112.3,1822.0 L1112.3,1821.0 L1112.3,1820.0 L1112.3,1819.0 L1112.3,1818.0 L1112.3,1817.0 L1112.3,1816.0 L1112.3,1815.0 L1112.3,1814.0 L1112.3,1813.0 L1112.3,1812.0 L1112.3,1811.0 L1112.3,1810.0 L1112.3,1809.0 L1112.3,1808.0 L1112.3,1807.0 L1112.2,1806.0 L1112.2,1805.0 L1112.2,1804.0 L1112.2,1803.0 L1112.2,1802.0 L1112.2,1801.0 L1112.2,1800.0 L1112.2,1799.0 L1112.2,1798.0 L1112.2,1797.0 L1112.2,1796.0 L1112.2,1795.0 L1112.2,1794.0 L1112.2,1793.0 L1112.2,1792.0 L1112.2,1791.0 L1112.2,1790.0 L1112.2,1789.0 L1112.2,1788.0 L1112.2,1787.0 L1112.2,1786.0 L1112.2,1785.0 L1112.2,1784.0 L1112.2,1783.0 L1112.2,1782.0 L1112.2,1781.0 L1112.2,1780.0 L1112.2,1779.0 L1112.2,1778.0 L1112.2,1777.0 L1112.2,1776.0 L1112.2,1775.0 L1112.2,1774.0 L1112.2,1773.0 L1112.2,1772.0 L1112.2,1771.0 L1112.2,1770.0 L1112.2,1769.0 L1112.2,1768.0 L1112.2,1767.0 L1112.2,1766.0 L1112.2,1765.0 L1112.2,1764.0 L1112.2,1763.0 L1112.2,1762.0 L1112.2,1761.0 L1112.2,1760.0 L1112.2,1759.0 L1112.2,1758.0 L1112.2,1757.0 L1112.2,1756.0 L1112.2,1755.0 L1112.2,1754.0 L1112.2,1753.0 L1112.2,1752.0 L1112.2,1751.0 L1112.2,1750.0 L1112.2,1749.0 L1112.2,1748.0 L1112.2,1747.0 L1112.2,1746.0 L1071.8,1746.0 L1071.8,1747.0 L1071.8,1748.0 L1071.8,1749.0 L1071.8,1750.0 L1071.8,1751.0 L1071.8,1752.0 L1071.8,1753.0 L1071.8,1754.0 L1071.8,1755.0 L1071.8,1756.0 L1071.8,1757.0 L1071.8,1758.0 L1071.8,1759.0 L1071.8,1760.0 L1071.8,1761.0 L1071.8,1762.0 L1071.8,1763.0 L1071.8,1764.0 L1071.8,1765.0 L1071.8,1766.0 L1071.8,1767.0 L1071.8,1768.0 L1071.8,1769.0 L1071.8,1770.0 L1071.8,1771.0 L1071.8,1772.0 L1071.8,1773.0 L1071.8,1774.0 L1071.8,1775.0 L1071.8,1776.0 L1071.8,1777.0 L1071.8,1778.0 L1071.8,1779.0 L1071.8,1780.0 L1071.8,1781.0 L1071.8,1782.0 L1071.8,1783.0 L1071.8,1784.0 L1071.8,1785.0 L1071.8,1786.0 L1071.8,1787.0 L1071.8,1788.0 L1071.8,1789.0 L1071.8,1790.0 L1071.8,1791.0 L1071.8,1792.0 L1071.8,1793.0 L1071.8,1794.0 L1071.8,1795.0 L1071.8,1796.0 L1071.8,1797.0 L1071.8,1798.0 L1071.8,1799.0 L1071.8,1800.0 L1071.8,1801.0 L1071.8,1802.0 L1071.8,1803.0 L1071.8,1804.0 L1071.8,1805.0 L1071.8,1806.0 L1071.7,1807.0 L1071.7,1808.0 L1071.7,1809.0 L1071.7,1810.0 L1071.7,1811.0 L1071.7,1812.0 L1071.7,1813.0 L1071.7,1814.0 L1071.7,1815.0 L1071.7,1816.0 L1071.7,1817.0 L1071.7,1818.0 L1071.7,1819.0 L1071.7,1820.0 L1071.7,1821.0 L1071.7,1822.0 L1071.7,1823.0 L1071.7,1824.0 L1071.7,1825.0 L1071.7,1826.0 L1071.7,1827.0 L1071.7,1828.0 L1071.7,1829.0 L1071.7,1830.0 L1071.7,1831.0 L1071.7,1832.0 L1071.7,1833.0 L1071.7,1834.0 L1071.7,1835.0 L1071.7,1836.0 L1071.7,1837.0 L1071.7,1838.0 L1071.7,1839.0 L1071.7,1840.0 L1071.7,1841.0 L1071.7,1842.0 L1071.7,1843.0 L1071.7,1844.0 L1071.7,1845.0 L1071.7,1846.0 L1071.7,1847.0 L1071.7,1848.0 L1071.7,1849.0 L1071.7,1850.0 L1071.7,1851.0 L1071.7,1852.0 L1071.7,1853.0 L1071.7,1853.9 L1071.7,1854.9 L1071.7,1855.9 L1071.7,1856.9 L1071.7,1857.9 L1071.7,1858.9 L1071.7,1859.9 L1071.7,1860.9 L1071.7,1861.9 L1071.7,1862.9 L1071.7,1863.9 L1071.7,1864.9 L1071.7,1865.9 L1071.7,1866.9 L1071.6,1867.9 L1071.6,1868.9 L1071.6,1869.9 L1071.6,1870.9 L1071.6,1871.9 L1071.6,1872.9 L1071.6,1873.9 L1071.6,1874.9 L1071.6,1875.9 L1071.6,1876.9 L1071.6,1877.8 L1071.6,1878.8 L1071.6,1879.8 L1071.6,1880.8 L1071.6,1881.8 L1071.5,1882.8 L1071.5,1883.8 L1071.5,1884.8 L1071.5,1885.8 L1071.5,1886.8 L1071.5,1887.8 L1071.5,1888.9 L1071.5,1889.9 L1071.5,1890.9 L1071.5,1891.9 L1071.5,1892.9 L1071.5,1893.9 L1071.5,1894.9 L1071.5,1895.9 L1071.5,1896.9 L1071.5,1897.9 L1071.4,1898.9 L1071.4,1899.9 L1071.4,1900.9 L1071.4,1901.9 L1071.4,1902.9 L1071.4,1903.9 L1071.4,1904.9 L1071.4,1905.9 L1071.4,1906.9 L1071.4,1907.9 L1071.4,1908.9 L1071.4,1910.0 L1071.4,1911.0 L1071.4,1912.0 L1071.4,1913.0 L1071.4,1914.0 L1071.4,1915.0 L1071.4,1916.0 L1071.4,1917.0 L1071.4,1918.1 L1071.4,1919.1 L1071.4,1920.1 L1071.4,1921.1 L1071.4,1922.1 L1071.4,1923.2 L1071.5,1924.2 L1071.5,1925.2 L1071.5,1926.2 L1071.5,1927.3 L1071.5,1928.3 L1071.5,1929.3 L1071.5,1930.3 L1071.6,1931.4 L1071.6,1932.4 L1071.6,1933.5 L1071.6,1934.5 L1071.7,1935.6 L1071.7,1936.6 L1071.7,1937.6 L1071.7,1938.6 L1071.8,1939.6 L1071.8,1940.6 L1071.8,1941.6 L1071.9,1942.7 L1071.9,1943.7 L1071.9,1944.7 L1072.0,1945.8 L1072.0,1946.8 L1072.1,1947.9 L1072.1,1948.9 L1072.2,1950.0 L1072.2,1951.1 L1072.3,1952.2 L1072.4,1953.4 L1072.4,1954.5 L1072.5,1955.7 L1072.6,1956.9 L1072.8,1958.1 L1072.9,1959.4 L1073.1,1960.7 L1073.3,1962.0 L1073.5,1963.3 L1073.7,1964.5 L1073.9,1965.8 L1074.2,1967.1 L1074.5,1968.3 L1074.7,1969.5 L1075.0,1970.6 L1075.3,1971.8 L1075.6,1972.8 L1075.9,1973.9 L1076.2,1975.1 L1076.5,1976.2 L1076.8,1977.4 L1077.2,1978.6 L1077.6,1979.7 L1077.9,1980.9 L1078.3,1982.0 L1078.7,1983.2 L1079.1,1984.3 L1079.6,1985.5 L1080.0,1986.7 L1080.5,1987.8 L1081.0,1988.9 L1081.5,1990.1 L1082.0,1991.2 L1082.5,1992.4 L1083.0,1993.5 L1083.6,1994.6 L1084.2,1995.8 L1084.8,1996.9 L1085.4,1998.0 L1086.0,1999.2 L1086.7,2000.3 L1087.3,2001.4 L1088.0,2002.5 L1088.7,2003.6 L1089.4,2004.7 L1090.2,2005.8 L1091.0,2006.9 L1091.8,2008.0 L1092.6,2009.1 L1093.4,2010.1 L1094.3,2011.2 L1095.2,2012.2 L1096.0,2013.2 L1096.9,2014.2 L1097.8,2015.1 L1098.8,2016.1 L1099.7,2017.0 L1100.6,2017.9 L1101.6,2018.8 L1102.5,2019.7 L1103.5,2020.6 L1104.5,2021.4 L1105.5,2022.2 L1106.5,2023.1 L1107.5,2023.9 L1108.5,2024.6 L1109.5,2025.4 L1110.5,2026.2 L1111.6,2026.9 L1112.6,2027.6 L1113.7,2028.3 L1114.7,2029.0 L1115.8,2029.7 L1116.9,2030.3 L1118.0,2031.0 L1119.1,2031.6 L1120.1,2032.2 L1121.2,2032.8 L1122.3,2033.4 L1123.4,2034.0 L1124.6,2034.5 L1125.7,2035.1 L1126.8,2035.6 L1128.0,2036.2 L1129.1,2036.7 L1130.3,2037.2 L1131.5,2037.6 L1132.7,2038.1 L1133.9,2038.6 L1135.1,2039.0 L1136.4,2039.4 L1137.6,2039.8 L1138.8,2040.2 L1140.1,2040.6 L1141.4,2040.9 L1142.6,2041.3 L1143.9,2041.6 L1145.2,2041.9 L1146.5,2042.1 L1147.8,2042.4 L1149.1,2042.6 L1150.4,2042.8 L1151.8,2043.0 L1153.1,2043.2 L1154.4,2043.3 L1155.6,2043.5 L1156.9,2043.6 L1158.1,2043.7 L1159.3,2043.7 L1160.5,2043.8 L1161.8,2043.9 L1163.0,2043.9 L1164.2,2043.9 L1165.5,2043.9 L1166.7,2043.9 L1168.0,2043.9 L1169.2,2043.9 L1170.4,2043.8 L1171.7,2043.7 L1172.9,2043.7 L1174.2,2043.6 L1175.4,2043.4 L1176.7,2043.3 L1177.9,2043.2 L1179.2,2043.0 L1180.4,2042.8 L1181.6,2042.7 L1182.9,2042.4 L1184.1,2042.2 L1185.3,2042.0 L1186.6,2041.7 L1187.8,2041.5 L1189.0,2041.2 L1190.2,2040.9 L1191.5,2040.6 L1192.7,2040.3 L1193.9,2039.9 L1195.1,2039.6 L1196.2,2039.2 L1197.4,2038.8 L1198.5,2038.5 L1199.7,2038.1 L1200.8,2037.7 L1201.9,2037.3 L1203.0,2036.9 L1204.1,2036.4 L1205.2,2036.0 L1206.2,2035.6 L1207.3,2035.1 L1208.4,2034.7 L1209.4,2034.2 L1210.5,2033.8 L1211.6,2033.3 L1212.6,2032.8 L1213.6,2032.4 L1214.7,2031.9 L1215.7,2031.4 L1216.7,2030.9 L1217.7,2030.4 L1218.7,2029.9 L1219.7,2029.4 L1220.7,2028.9 L1221.7,2028.3 L1222.7,2027.8 L1223.7,2027.3 L1224.7,2026.7 L1225.7,2026.2 L1226.6,2025.6 L1227.6,2025.1 L1228.6,2024.5 L1229.5,2024.0 L1230.5,2023.4 L1231.4,2022.8 L1232.4,2022.2 L1233.3,2021.7 L1234.3,2021.1 L1235.2,2020.5 L1236.1,2019.9 L1237.1,2019.3 L1238.0,2018.7 L1238.9,2018.1 L1239.8,2017.5 L1240.7,2016.9 L1241.6,2016.3 L1242.5,2015.6 L1243.4,2015.0 L1244.3,2014.4 L1245.2,2013.8 L1246.0,2013.2 L1246.9,2012.5 L1247.8,2011.9 L1248.7,2011.2 L1249.6,2010.6 L1250.4,2010.0 L1251.3,2009.3 L1252.2,2008.7 L1253.0,2008.0 L1253.9,2007.3 L1254.8,2006.7 L1255.6,2006.0 L1256.5,2005.3 L1257.3,2004.6 L1258.2,2004.0 L1259.0,2003.3 L1259.9,2002.6 L1260.7,2001.9 L1261.6,2001.2 L1262.4,2000.5 L1263.2,1999.8 L1264.1,1999.1 L1264.9,1998.3 L1265.7,1997.6 L1266.5,1996.9 L1267.4,1996.2 L1268.2,1995.4 L1269.0,1994.7 L1269.8,1993.9 L1270.6,1993.2 L1271.4,1992.4 L1272.2,1991.7 L1273.0,1990.9 L1273.8,1990.1 L1274.6,1989.4 L1275.4,1988.6 L1276.2,1987.8 L1277.0,1987.0 L1277.8,1986.2 L1278.5,1985.4 L1279.3,1984.6 L1280.1,1983.8 L1280.8,1983.0 L1281.6,1982.2 L1282.3,1981.4 L1283.1,1980.6 L1283.8,1979.8 L1284.5,1978.9 L1285.3,1978.1 L1286.0,1977.3 L1286.7,1976.5 L1287.4,1975.7 L1288.1,1974.8 L1288.8,1974.0 L1289.5,1973.2 L1290.2,1972.4 L1290.9,1971.5 L1291.6,1970.7 L1292.3,1969.9 L1292.9,1969.0 L1293.6,1968.2 L1294.3,1967.3 L1295.0,1966.5 L1295.6,1965.7 L1296.3,1964.8 L1296.9,1964.0 L1297.6,1963.1 L1298.2,1962.3 L1298.9,1961.4 L1299.5,1960.6 L1300.2,1959.7 L1300.8,1958.8 L1301.4,1958.0 L1302.1,1957.1 L1302.7,1956.3 L1303.3,1955.4 L1303.9,1954.5 L1304.6,1953.7 L1305.2,1952.8 L1305.8,1951.9 L1306.4,1951.0 L1307.0,1950.2 L1307.6,1949.3 L1308.2,1948.4 L1308.8,1947.5 L1309.4,1946.6 L1310.0,1945.7 L1310.6,1944.8 L1311.2,1943.9 L1311.8,1943.1 L1312.4,1942.2 L1312.9,1941.2 L1313.5,1940.3 L1314.1,1939.3 L1314.8,1938.4 L1315.3,1937.4 L1315.9,1936.4 L1316.5,1935.4 L1317.1,1934.4 L1317.6,1933.5 L1318.2,1932.5 L1318.7,1931.5 L1319.3,1930.6 L1319.8,1929.6 L1320.3,1928.6 L1320.8,1927.7 L1321.3,1926.7 L1321.8,1925.8 L1322.3,1924.8 L1322.8,1923.9 L1323.3,1922.9 L1323.8,1922.0 L1324.2,1921.0 L1324.7,1920.1 L1325.2,1919.1 L1325.7,1918.2 L1326.1,1917.2 L1326.6,1916.3 L1327.0,1915.3 L1327.5,1914.4 L1327.9,1913.5 L1328.4,1912.5 L1328.8,1911.6 L1329.2,1910.7 L1329.7,1909.7 L1330.1,1908.8 L1330.5,1907.9 L1331.0,1907.0 L1331.4,1906.0 L1331.8,1905.1 L1332.2,1904.2 L1332.7,1903.3 L1333.1,1902.4 L1333.5,1901.5 L1333.9,1900.6 L1334.3,1899.7 L1334.7,1898.9 L1335.1,1898.0 L1335.5,1897.2 L1335.9,1896.3 L1336.3,1895.5 L1336.7,1894.7 L1337.1,1893.9 L1337.6,1893.0 L1338.0,1892.2 L1338.4,1891.3 L1338.9,1890.4 L1339.3,1889.6 L1339.7,1888.7 L1340.2,1887.8 L1340.6,1886.9 L1341.1,1886.0 L1341.6,1885.1 L1342.1,1884.1 L1342.6,1883.1 L1343.1,1882.0 L1343.6,1880.9 L1344.2,1879.8 L1344.7,1878.6 L1345.2,1877.4 L1345.7,1876.3 L1346.1,1875.2 L1346.5,1874.1 L1346.9,1873.0 L1347.3,1872.0 L1347.7,1871.0 L1348.1,1870.0 L1348.4,1869.0 L1348.8,1867.9 L1349.2,1866.9 L1349.5,1865.8 L1349.9,1864.8 L1350.3,1863.7 L1350.6,1862.6 L1351.0,1861.5 L1351.3,1860.4 L1351.6,1859.3 L1352.0,1858.2 L1352.3,1857.1 L1352.6,1855.9 L1352.9,1854.8 L1353.2,1853.7 L1353.5,1852.5 L1353.7,1851.4 L1354.0,1850.2 L1354.3,1849.0 L1354.5,1847.9 L1354.7,1846.7 L1355.0,1845.5 L1355.2,1844.3 L1355.4,1843.2 L1355.6,1842.0 L1355.7,1840.9 L1355.9,1839.7 L1356.1,1838.6 L1356.2,1837.5 L1356.4,1836.4 L1356.5,1835.3 L1356.6,1834.2 L1356.7,1833.1 L1356.9,1832.0 L1357.0,1830.9 L1357.1,1829.8 L1357.2,1828.8 L1357.3,1827.7 L1357.4,1826.7 L1357.4,1825.6 L1357.5,1824.6 L1357.6,1823.5 L1357.7,1822.5 L1357.8,1821.5 L1357.8,1820.5 L1357.9,1819.5 L1358.0,1818.4 L1358.1,1817.4 L1358.1,1816.5 L1358.2,1815.7 L1358.3,1814.9 L1358.3,1814.3 L1358.4,1813.8 L1358.5,1813.1 L1358.7,1812.0 L1358.9,1810.3 L1359.1,1808.7 L1359.2,1807.3 L1359.2,1806.0 L1359.3,1804.9 L1359.3,1803.7 L1359.4,1802.6 L1359.4,1801.6 L1359.4,1800.5 L1359.5,1799.5 L1359.5,1798.4 L1359.5,1797.4 L1359.5,1796.4 L1359.5,1795.3 L1359.6,1794.3 L1359.6,1793.3 L1359.6,1792.3 L1359.6,1791.3 L1359.6,1790.2 L1359.6,1789.2 L1359.6,1788.2 L1359.7,1787.2 L1359.7,1786.2 L1359.7,1785.2 L1359.7,1784.2 L1359.7,1783.2 L1359.7,1782.2 L1359.7,1781.2 L1359.7,1780.2 L1359.7,1779.2 L1359.7,1778.1 L1359.8,1777.1 L1359.8,1776.1 L1359.8,1775.1 L1359.8,1774.1 L1359.8,1773.1 L1359.8,1772.1 L1359.8,1771.1 L1359.8,1770.1 L1359.8,1769.1 L1359.8,1768.1 L1359.8,1767.1 L1359.8,1766.1 L1359.8,1765.1 L1359.8,1764.1 L1359.8,1763.1 L1359.8,1762.1 L1359.8,1761.1 L1359.8,1760.1 L1359.9,1759.1 L1359.9,1758.1 L1359.9,1757.1 L1359.9,1756.1 L1359.9,1755.1 L1359.9,1754.1 L1359.9,1753.1 L1359.9,1752.1 L1359.9,1751.0 L1359.9,1750.0 L1359.9,1749.0 L1359.9,1748.0 L1359.9,1747.0 L1359.9,1746.0 L1359.9,1745.0 L1359.9,1744.0 L1359.9,1743.0 L1359.9,1742.0 L1359.9,1741.0 L1359.9,1740.0 L1359.9,1739.0 L1359.9,1738.0 L1359.9,1737.0 L1359.9,1736.0 L1359.9,1735.0 L1359.9,1734.0 L1359.9,1733.0 L1359.9,1732.0 L1359.9,1731.0 L1359.9,1730.0 L1359.9,1729.0 L1359.9,1728.0 L1359.9,1727.0 L1359.9,1726.0 L1359.9,1725.0 L1359.9,1724.0 L1359.9,1723.0 L1359.9,1722.0 L1359.9,1721.0 L1360.0,1720.0 L1360.0,1719.0 L1360.0,1718.0 L1360.0,1717.0 L1360.0,1716.0 L1360.0,1715.0 L1360.0,1714.0 L1360.0,1713.0 L1360.0,1712.0 L1360.0,1711.0 L1360.0,1710.0 L1360.0,1709.0 L1360.0,1708.0 L1360.0,1707.0 L1360.0,1706.0 L1360.0,1705.0 L1360.0,1704.0 L1360.0,1703.0 L1360.0,1702.0 L1360.0,1701.0 L1360.0,1700.0 L1360.0,1699.0 L1360.0,1698.0 L1360.0,1697.0 L1360.0,1696.0 L1360.0,1695.0 L1360.0,1694.0 L1360.0,1693.0 L1360.0,1692.0 L1360.0,1691.0 L1360.0,1690.0 L1360.0,1689.0 L1360.0,1688.0 L1360.0,1687.0 L1360.0,1686.0 L1360.0,1685.0 L1360.0,1684.0 L1360.0,1683.0 L1360.0,1682.0 L1360.0,1681.0 L1360.0,1680.0 L1360.0,1679.0 L1360.0,1678.0 L1360.0,1677.0 L1360.0,1676.0 L1360.0,1675.0 L1360.0,1674.0 L1360.0,1673.0 L1360.0,1672.0 L1360.0,1671.0 L1360.0,1670.0 L1360.0,1669.0 L1360.0,1668.0 L1360.0,1667.0 L1360.0,1666.0 L1360.0,1665.0 L1360.0,1664.0 L1360.0,1663.0 L1360.0,1662.0 L1360.0,1661.0 L1360.0,1660.0 L1360.0,1659.0 L1360.0,1658.0 L1360.0,1657.0 L1360.0,1656.0 L1360.0,1655.0 L1360.0,1654.0 L1360.0,1653.0 L1360.0,1652.0 L1360.0,1651.0 L1360.0,1650.0 L1360.0,1649.0 L1360.0,1648.0 L1360.0,1647.0 L1360.0,1646.0 L1360.0,1645.0 L1360.0,1644.0 L1360.0,1643.0 L1360.0,1642.0 L1360.0,1641.0 L1360.0,1640.0 L1360.0,1639.0 L1360.0,1638.0 L1360.0,1637.0 L1360.0,1636.0 L1360.0,1635.0 L1360.0,1634.0 L1360.0,1633.0 L1360.0,1632.0 L1360.0,1631.0 L1360.0,1630.0 L1360.0,1629.0 L1360.0,1628.0 L1360.0,1627.0 L1360.0,1626.0 L1360.0,1625.0 L1360.0,1624.0 L1360.0,1623.0 L1360.0,1622.0 L1360.0,1621.0 L1360.0,1620.0 L1360.0,1619.0 L1360.0,1618.0 L1360.0,1617.0 L1360.1,1616.0 L1360.1,1615.0 L1360.1,1614.0 L1360.1,1613.0 L1360.1,1612.0 L1360.1,1611.0 L1360.1,1610.0 L1360.1,1609.0 L1360.1,1608.0 L1360.1,1607.0 L1360.1,1606.0 L1360.1,1605.0 L1360.1,1604.0 L1360.1,1603.0 L1360.1,1602.0 L1360.1,1601.0 L1360.1,1600.0 L1360.1,1599.0 L1360.1,1598.0 L1360.1,1597.0 L1360.1,1596.0 L1360.1,1595.0 L1360.1,1594.0 L1360.1,1593.0 L1360.1,1592.0 L1360.1,1591.0 L1360.1,1590.0 L1360.1,1589.0 L1360.1,1588.0 L1360.1,1587.0 L1360.1,1586.0 L1360.1,1585.0 L1360.1,1584.0 L1360.1,1583.0 L1360.1,1582.0 L1360.1,1581.0 L1360.1,1580.0 L1360.1,1579.0 L1360.1,1578.0 L1360.1,1577.0 L1360.1,1576.0 L1360.1,1575.0 L1360.1,1574.0 L1360.1,1573.0 L1360.1,1572.0 L1360.1,1571.0 L1360.1,1570.0 L1360.1,1569.0 L1360.1,1568.0 L1360.1,1567.0 L1360.1,1566.0 L1360.1,1565.0 L1360.1,1564.0 L1360.1,1563.0 L1360.1,1562.0 L1360.2,1561.0 L1360.2,1560.0 L1360.2,1559.0 L1360.2,1558.0 L1360.2,1557.0 L1360.2,1556.0 L1360.2,1555.0 L1360.2,1554.0 L1360.2,1553.0 L1360.2,1552.0 L1360.2,1551.0 L1360.2,1550.0 L1360.2,1549.0 L1360.2,1548.0 L1360.2,1547.0 L1360.2,1546.0 L1360.2,1545.0 L1360.2,1544.0 L1360.2,1543.0 L1360.2,1542.0 L1360.2,1541.0 L1360.2,1540.0 L1360.2,1539.0 L1360.2,1538.0 L1360.2,1537.0 L1360.2,1536.0 L1360.2,1535.0 L1360.2,1534.0 L1360.2,1533.0 L1360.2,1532.0 L1360.2,1531.0 L1360.2,1530.0 L1360.2,1529.0 L1360.2,1528.0 L1360.2,1527.0 L1360.2,1526.0 L1360.2,1525.0 L1360.2,1524.0 L1360.2,1523.0 L1360.2,1522.0 L1360.2,1521.0 L1360.2,1520.0 L1360.2,1519.0 L1360.2,1518.0 L1360.2,1517.0 L1360.2,1516.0 L1360.2,1515.0 L1360.2,1514.0 L1360.2,1513.0 L1360.2,1512.0 L1360.3,1511.0 L1360.3,1510.0 L1360.3,1509.0 L1360.3,1508.0 L1360.3,1507.0 L1360.3,1506.0 L1360.3,1505.0 L1360.3,1504.0 L1360.3,1503.0 L1360.3,1502.0 L1360.3,1501.0 L1360.3,1500.0 L1360.3,1499.0 L1360.3,1498.0 L1360.3,1497.0 L1360.3,1496.0 L1360.3,1495.0 L1360.3,1494.0 L1360.3,1493.0 L1360.3,1492.0 L1360.3,1491.0 L1360.3,1490.0 L1360.3,1489.0 L1360.3,1488.0 L1360.3,1487.0 L1360.3,1486.0 L1360.3,1485.0 L1360.3,1484.0 L1360.3,1483.0 L1360.3,1482.0 L1360.3,1481.0 L1360.3,1480.0 L1360.3,1479.0 L1360.3,1478.0 L1360.3,1477.0 L1360.3,1476.0 L1360.3,1475.0 L1360.3,1474.0 L1360.3,1473.0 L1360.3,1472.0 L1360.3,1471.0 L1360.3,1470.0 L1360.3,1469.0 L1360.3,1468.0 L1360.3,1467.0 L1360.3,1466.0 L1360.3,1465.0 L1360.3,1464.0 L1360.3,1463.0 L1360.3,1462.0 L1360.3,1461.0 L1360.3,1460.0 L1360.3,1459.0 L1360.3,1458.0 L1360.4,1457.0 L1360.4,1456.0 L1360.4,1455.0 L1360.4,1454.0 L1360.4,1453.0 L1360.4,1452.0 L1360.4,1451.0 L1360.4,1450.0 L1360.4,1449.0 L1360.4,1448.0 L1360.4,1447.0 L1360.4,1446.0 L1360.4,1445.0 L1360.4,1444.0 L1360.4,1443.0 L1360.4,1442.0 L1360.4,1441.0 L1360.4,1440.0 L1360.4,1439.0 L1360.4,1438.0 L1360.4,1437.0 L1360.4,1436.0 L1360.4,1435.0 L1360.4,1434.0 L1360.4,1433.0 L1360.4,1432.0 L1360.4,1431.0 L1360.4,1430.0 L1360.4,1429.0 L1360.4,1428.0 L1360.4,1427.0 L1360.4,1426.0 L1360.4,1425.0 L1360.4,1424.0 L1360.4,1423.0 L1360.4,1422.0 L1360.4,1421.0 L1360.4,1420.0 L1360.4,1419.0 L1360.4,1418.0 L1360.4,1417.0 L1360.4,1416.0 L1360.4,1415.0 L1360.4,1414.0 L1360.4,1413.0 L1360.4,1412.0 L1360.4,1411.0 L1360.4,1410.0 L1360.4,1409.0 L1360.4,1408.0 L1360.4,1407.0 L1360.4,1406.0 L1360.4,1405.0 L1360.4,1404.0 L1360.4,1403.0 L1360.4,1402.0 L1360.4,1401.0 L1360.4,1400.0 L1360.4,1399.0 L1360.4,1398.0 L1360.4,1397.0 L1360.4,1396.0 L1360.4,1395.0 L1360.4,1394.0 L1360.4,1393.0 L1360.5,1392.0 L1360.5,1391.0 L1360.5,1390.0 L1360.5,1389.0 L1360.5,1388.0 L1360.5,1387.0 L1360.5,1386.0 L1360.5,1385.0 L1360.5,1384.0 L1360.5,1383.0 L1360.5,1382.0 L1360.5,1381.0 L1360.5,1380.0 L1360.5,1379.0 L1360.5,1378.0 L1360.5,1377.0 L1360.5,1376.0 L1360.5,1375.0 L1360.5,1374.0 L1360.5,1373.0 L1360.5,1372.0 L1360.5,1371.0 L1360.5,1370.0 L1360.5,1369.0 L1360.5,1368.0 L1360.5,1367.0 L1360.5,1366.0 L1360.5,1365.0 L1360.5,1364.0 L1360.5,1363.0 L1360.5,1362.0 L1360.5,1361.0 L1360.5,1360.0 L1360.5,1359.0 L1360.5,1358.0 L1360.5,1357.0 L1360.5,1356.0 L1360.5,1355.0 L1360.5,1354.0 L1360.5,1353.0 L1360.5,1352.0 L1360.5,1351.0 L1360.5,1350.0 L1360.5,1349.0 L1360.5,1348.0 L1360.5,1347.0 L1360.5,1346.0 L1360.5,1345.0 L1360.5,1344.0 L1360.5,1343.0 L1360.5,1342.0 L1360.5,1341.0 L1360.5,1340.0 L1360.5,1339.0 L1360.5,1338.0 L1360.5,1337.0 L1360.5,1336.0 L1360.5,1335.0 L1360.5,1334.0 L1360.5,1333.0 L1360.5,1332.0 L1360.5,1331.0 L1360.5,1330.0 L1360.5,1329.0 L1360.5,1328.0 L1360.5,1327.0 L1360.5,1326.0 L1360.5,1325.0 L1360.5,1324.0 L1360.5,1323.0 L1360.5,1322.0 L1360.5,1321.0 L1360.5,1320.0 L1360.5,1319.0 L1360.5,1318.0 L1360.5,1317.0 L1360.5,1316.0 L1360.5,1315.0 L1360.5,1314.0 L1360.5,1313.0 L1360.5,1312.0 L1360.5,1311.0 L1360.5,1310.0 L1360.5,1309.0 L1360.5,1308.0 L1360.5,1307.0 L1360.5,1306.0 L1360.5,1305.0 L1360.5,1304.0 L1360.5,1303.0 L1360.5,1302.0 L1360.5,1301.0 L1360.5,1300.0 L1360.5,1299.0 L1360.5,1298.0 L1360.5,1297.0 L1360.5,1296.0 L1360.5,1295.0 L1360.5,1294.0 L1360.5,1293.0 L1360.5,1292.0 L1360.5,1291.0 L1360.5,1290.0 L1360.5,1289.0 L1360.5,1288.0 L1360.5,1287.0 L1360.5,1286.0 L1360.5,1285.0 L1360.5,1284.0 L1360.5,1283.0 L1360.5,1282.0 L1360.5,1281.0 L1360.5,1280.0 L1360.6,1279.0 L1360.6,1278.0 L1360.6,1277.0 L1360.6,1276.0 L1360.6,1275.0 L1360.6,1274.0 L1360.6,1273.0 L1360.6,1272.0 L1360.6,1271.0 L1360.6,1270.0 L1360.6,1269.0 L1360.6,1268.0 L1360.6,1267.0 L1360.6,1266.0 L1360.6,1265.0 L1360.6,1264.0 L1360.6,1263.0 L1360.6,1262.0 L1360.6,1261.0 L1360.6,1260.0 L1360.6,1259.0 L1360.6,1258.0 L1360.6,1257.0 L1360.6,1256.0 L1360.6,1255.0 L1360.6,1254.0 L1360.6,1253.0 L1360.6,1252.0 L1360.6,1251.0 L1360.6,1250.0 L1360.6,1249.0 L1360.6,1248.0 L1360.6,1247.0 L1360.6,1246.0 L1360.6,1245.0 L1360.6,1244.0 L1360.6,1243.0 L1360.6,1242.0 L1360.6,1241.0 L1360.6,1240.0 L1360.6,1239.0 L1360.6,1238.0 L1360.6,1237.0 L1360.6,1236.0 L1360.6,1235.0 L1360.6,1234.0 L1360.6,1233.0 L1360.6,1232.0 L1360.6,1231.0 L1360.6,1230.0 L1360.6,1229.0 L1360.6,1228.0 L1360.6,1227.0 L1360.6,1226.0 L1360.6,1225.0 L1360.6,1224.0 L1360.6,1223.0 L1360.6,1222.0 L1360.6,1221.0 L1360.6,1220.0 L1360.6,1219.0 L1360.6,1218.0 L1360.6,1217.0 L1360.6,1216.0 L1360.6,1215.0 L1360.6,1214.0 L1360.6,1213.0 L1360.6,1212.0 L1360.6,1211.0 L1360.6,1210.0 L1360.6,1209.0 L1360.6,1208.0 L1360.6,1207.0 L1360.6,1206.0 L1360.6,1205.0 Z" fill="#fff" stroke="#fff" stroke-width="0.1" />
<path d="M1318.2,1205.0 L1318.2,1208.0 L1318.2,1211.0 L1318.2,1214.0 L1318.2,1217.0 L1318.2,1220.0 L1318.2,1223.0 L1318.2,1226.0 L1318.2,1229.0 L1318.2,1232.0 L1318.2,1235.0 L1318.2,1238.0 L1318.2,1241.0 L1318.2,1244.0 L1318.2,1247.0 L1318.2,1250.0 L1318.2,1253.0 L1318.2,1256.0 L1318.3,1259.0 L1318.3,1262.0 L1318.3,1265.0 L1318.3,1268.0 L1318.3,1271.0 L1318.3,1274.0 L1318.3,1277.0 L1318.3,1280.0 L1318.3,1283.0 L1318.3,1286.0 L1318.3,1289.0 L1318.3,1292.0 L1318.3,1295.0 L1318.3,1298.0 L1318.3,1301.0 L1318.3,1304.0 L1318.3,1307.0 L1318.3,1310.0 L1318.3,1313.0 L1318.3,1316.0 L1318.3,1319.0 L1318.3,1322.0 L1318.3,1325.0 L1318.3,1328.0 L1318.3,1331.0 L1318.3,1334.0 L1318.3,1337.0 L1318.3,1340.0 L1318.3,1343.0 L1318.3,1346.0 L1318.3,1349.0 L1318.3,1352.0 L1318.3,1355.0 L1318.3,1358.0 L1318.3,1361.0 L1318.3,1364.0 L1318.3,1367.0 L1318.3,1370.0 L1318.3,1373.0 L1318.3,1376.0 L1318.4,1379.0 L1318.4,1382.0 L1318.4,1385.0 L1318.4,1388.0 L1318.4,1391.0 L1318.4,1394.0 L1318.4,1397.0 L1318.4,1400.0 L1318.4,1403.0 L1318.4,1406.0 L1318.4,1409.0 L1318.4,1412.0 L1318.4,1415.0 L1318.4,1418.0 L1318.4,1421.0 L1318.4,1424.0 L1318.4,1427.0 L1318.4,1430.0 L1318.4,1433.0 L1318.4,1436.0 L1318.4,1439.0 L1318.4,1442.0 L1318.4,1445.0 L1318.4,1448.0 L1318.4,1451.0 L1318.4,1454.0 L1318.4,1457.0 L1318.4,1460.0 L1318.4,1463.0 L1318.4,1466.0 L1318.4,1469.0 L1318.4,1472.0 L1318.4,1475.0 L1318.4,1478.0 L1318.4,1481.0 L1318.4,1484.0 L1318.4,1487.0 L1318.4,1490.0 L1318.4,1493.0 L1318.4,1496.0 L1318.4,1499.0 L1318.4,1502.0 L1318.4,1505.0 L1318.4,1508.0 L1318.4,1511.0 L1318.4,1514.0 L1318.4,1517.0 L1318.3,1520.0 L1318.3,1523.0 L1318.3,1526.0 L1318.3,1529.0 L1318.3,1532.0 L1318.3,1535.0 L1318.3,1538.0 L1318.3,1541.0 L1318.3,1544.0 L1318.3,1547.0 L1318.3,1550.0 L1318.3,1553.0 L1318.3,1556.0 L1318.3,1559.0 L1318.3,1562.0 L1318.3,1565.0 L1318.3,1568.0 L1318.3,1571.0 L1318.3,1574.0 L1318.3,1577.0 L1318.3,1580.0 L1318.3,1583.0 L1318.3,1586.0 L1318.3,1589.0 L1318.3,1592.0 L1318.3,1595.0 L1318.3,1598.0 L1318.3,1601.0 L1318.3,1604.0 L1318.3,1607.0 L1318.3,1610.0 L1318.3,1613.0 L1318.3,1616.0 L1318.3,1619.0 L1318.3,1622.0 L1318.3,1625.0 L1318.3,1628.0 L1318.3,1631.0 L1318.3,1634.0 L1318.3,1637.0 L1318.3,1640.0 L1318.3,1643.0 L1318.3,1646.0 L1318.3,1649.0 L1318.3,1652.0 L1318.3,1655.0 L1318.4,1658.0 L1318.4,1661.0 L1318.4,1664.0 L1318.4,1667.0 L1318.4,1670.0 L1318.4,1673.0 L1318.4,1676.0 L1318.4,1679.0 L1318.4,1682.0 L1318.4,1685.0 L1318.4,1688.0 L1318.4,1691.0 L1318.4,1694.0 L1318.4,1697.0 L1318.4,1700.0 L1318.4,1703.0 L1318.4,1706.0 L1318.4,1709.0 L1318.4,1712.0 L1318.4,1715.0 L1318.4,1718.0 L1318.4,1721.0 L1318.4,1724.0 L1318.4,1727.0 L1318.4,1730.0 L1318.4,1733.0 L1318.4,1736.0 L1318.4,1739.0 L1318.4,1742.0 L1318.4,1745.0 L1318.4,1748.0 L1318.4,1750.9 L1318.4,1753.9 L1318.4,1756.9 L1318.4,1759.9 L1318.4,1762.9 L1318.3,1765.9 L1318.3,1768.9 L1318.3,1771.9 L1318.3,1774.9 L1318.3,1777.9 L1318.3,1780.8 L1318.2,1783.8 L1318.2,1786.8 L1318.2,1789.7 L1318.1,1792.7 L1318.1,1795.6 L1318.0,1798.5 L1318.0,1801.3 L1317.9,1803.9 L1317.8,1805.6 L1317.4,1808.1 L1317.0,1812.2 L1316.7,1815.4 L1316.5,1818.4 L1316.3,1821.2 L1316.0,1824.1 L1315.8,1826.9 L1315.5,1829.6 L1315.2,1832.2 L1314.8,1834.8 L1314.4,1837.2 L1314.0,1839.6 L1313.5,1842.0 L1312.9,1844.3 L1312.2,1846.7 L1311.5,1849.2 L1310.7,1851.6 L1309.9,1854.1 L1308.9,1856.7 L1308.0,1859.2 L1307.1,1861.5 L1306.2,1863.5 L1305.1,1865.6 L1303.9,1868.2 L1302.5,1870.9 L1301.1,1873.7 L1299.7,1876.5 L1298.3,1879.4 L1296.9,1882.3 L1295.6,1885.1 L1294.4,1887.8 L1293.1,1890.5 L1291.9,1893.1 L1290.7,1895.8 L1289.4,1898.4 L1288.2,1900.9 L1286.9,1903.4 L1285.7,1905.9 L1284.4,1908.4 L1283.1,1910.8 L1281.8,1913.1 L1280.5,1915.4 L1279.2,1917.6 L1277.7,1919.8 L1276.2,1922.2 L1274.7,1924.5 L1273.1,1926.8 L1271.5,1929.1 L1269.9,1931.4 L1268.2,1933.6 L1266.6,1935.9 L1264.9,1938.1 L1263.2,1940.3 L1261.5,1942.5 L1259.7,1944.6 L1258.0,1946.8 L1256.2,1948.9 L1254.4,1950.9 L1252.6,1953.0 L1250.8,1954.9 L1248.9,1956.9 L1247.1,1958.8 L1245.2,1960.7 L1243.3,1962.5 L1241.3,1964.3 L1239.3,1966.2 L1237.2,1967.9 L1235.2,1969.7 L1233.1,1971.4 L1231.0,1973.1 L1228.8,1974.8 L1226.6,1976.5 L1224.4,1978.1 L1222.2,1979.7 L1220.0,1981.3 L1217.7,1982.9 L1215.4,1984.4 L1213.2,1985.9 L1210.9,1987.3 L1208.6,1988.7 L1206.3,1990.0 L1204.0,1991.3 L1201.7,1992.5 L1199.4,1993.7 L1197.0,1994.9 L1194.7,1995.9 L1192.4,1997.0 L1190.0,1997.9 L1187.7,1998.8 L1185.4,1999.6 L1183.2,2000.4 L1181.0,2001.0 L1178.8,2001.5 L1176.6,2002.0 L1174.4,2002.3 L1172.2,2002.6 L1170.0,2002.8 L1167.7,2002.9 L1165.5,2003.0 L1163.2,2003.0 L1160.9,2002.8 L1158.6,2002.6 L1156.6,2002.4 L1154.6,2002.1 L1152.6,2001.6 L1150.6,2001.1 L1148.6,2000.4 L1146.6,1999.7 L1144.6,1998.8 L1142.6,1997.9 L1140.6,1996.9 L1138.6,1995.7 L1136.8,1994.6 L1134.9,1993.4 L1133.2,1992.1 L1131.5,1990.8 L1129.9,1989.4 L1128.4,1988.0 L1126.9,1986.5 L1125.6,1985.0 L1124.4,1983.5 L1123.3,1981.9 L1122.2,1980.1 L1121.1,1978.3 L1120.1,1976.4 L1119.1,1974.4 L1118.2,1972.3 L1117.4,1970.2 L1116.6,1968.0 L1115.9,1965.7 L1115.2,1963.4 L1114.6,1960.9 L1114.1,1958.6 L1113.7,1956.5 L1113.4,1954.5 L1113.1,1952.2 L1112.9,1949.7 L1112.8,1947.0 L1112.7,1944.2 L1112.6,1941.3 L1112.5,1938.3 L1112.4,1935.4 L1112.3,1932.5 L1112.2,1929.6 L1112.2,1926.7 L1112.1,1923.8 L1112.1,1920.8 L1112.1,1917.9 L1112.1,1914.9 L1112.1,1912.0 L1112.1,1909.0 L1112.1,1906.0 L1112.1,1903.0 L1112.1,1900.1 L1112.1,1897.1 L1112.1,1894.1 L1112.1,1891.1 L1112.1,1888.1 L1112.2,1885.1 L1112.2,1882.1 L1112.2,1879.1 L1112.2,1876.1 L1112.2,1873.1 L1112.2,1870.1 L1112.3,1867.1 L1112.3,1864.1 L1112.3,1861.0 L1112.3,1858.0 L1112.3,1855.0 L1112.3,1852.0 L1112.3,1849.0 L1112.3,1846.0 L1112.3,1843.0 L1112.3,1840.0 L1112.3,1837.0 L1112.3,1834.0 L1112.3,1831.0 L1112.3,1828.0 L1112.3,1825.0 L1112.3,1822.0 L1112.3,1819.0 L1112.3,1816.0 L1112.3,1813.0 L1112.3,1810.0 L1112.3,1807.0 L1112.2,1804.0 L1112.2,1801.0 L1112.2,1798.0 L1112.2,1795.0 L1112.2,1792.0 L1112.2,1789.0 L1112.2,1786.0 L1112.2,1783.0 L1112.2,1780.0 L1112.2,1777.0 L1112.2,1774.0 L1112.2,1771.0 L1112.2,1768.0 L1112.2,1765.0 L1112.2,1762.0 L1112.2,1759.0 L1112.2,1756.0 L1112.2,1753.0 L1112.2,1750.0 L1112.2,1747.0" fill="none" stroke="#000" stroke-width="4.4" />
<path d="M1360.6,1205.0 L1360.6,1208.0 L1360.6,1211.0 L1360.6,1214.0 L1360.6,1217.0 L1360.6,1220.0 L1360.6,1223.0 L1360.6,1226.0 L1360.6,1229.0 L1360.6,1232.0 L1360.6,1235.0 L1360.6,1238.0 L1360.6,1241.0 L1360.6,1244.0 L1360.6,1247.0 L1360.6,1250.0 L1360.6,1253.0 L1360.6,1256.0 L1360.6,1259.0 L1360.6,1262.0 L1360.6,1265.0 L1360.6,1268.0 L1360.6,1271.0 L1360.6,1274.0 L1360.6,1277.0 L1360.5,1280.0 L1360.5,1283.0 L1360.5,1286.0 L1360.5,1289.0 L1360.5,1292.0 L1360.5,1295.0 L1360.5,1298.0 L1360.5,1301.0 L1360.5,1304.0 L1360.5,1307.0 L1360.5,1310.0 L1360.5,1313.0 L1360.5,1316.0 L1360.5,1319.0 L1360.5,1322.0 L1360.5,1325.0 L1360.5,1328.0 L1360.5,1331.0 L1360.5,1334.0 L1360.5,1337.0 L1360.5,1340.0 L1360.5,1343.0 L1360.5,1346.0 L1360.5,1349.0 L1360.5,1352.0 L1360.5,1355.0 L1360.5,1358.0 L1360.5,1361.0 L1360.5,1364.0 L1360.5,1367.0 L1360.5,1370.0 L1360.5,1373.0 L1360.5,1376.0 L1360.5,1379.0 L1360.5,1382.0 L1360.5,1385.0 L1360.5,1388.0 L1360.5,1391.0 L1360.4,1394.0 L1360.4,1397.0 L1360.4,1400.0 L1360.4,1403.0 L1360.4,1406.0 L1360.4,1409.0 L1360.4,1412.0 L1360.4,1415.0 L1360.4,1418.0 L1360.4,1421.0 L1360.4,1424.0 L1360.4,1427.0 L1360.4,1430.0 L1360.4,1433.0 L1360.4,1436.0 L1360.4,1439.0 L1360.4,1442.0 L1360.4,1445.0 L1360.4,1448.0 L1360.4,1451.0 L1360.4,1454.0 L1360.4,1457.0 L1360.3,1460.0 L1360.3,1463.0 L1360.3,1466.0 L1360.3,1469.0 L1360.3,1472.0 L1360.3,1475.0 L1360.3,1478.0 L1360.3,1481.0 L1360.3,1484.0 L1360.3,1487.0 L1360.3,1490.0 L1360.3,1493.0 L1360.3,1496.0 L1360.3,1499.0 L1360.3,1502.0 L1360.3,1505.0 L1360.3,1508.0 L1360.3,1511.0 L1360.2,1514.0 L1360.2,1517.0 L1360.2,1520.0 L1360.2,1523.0 L1360.2,1526.0 L1360.2,1529.0 L1360.2,1532.0 L1360.2,1535.0 L1360.2,1538.0 L1360.2,1541.0 L1360.2,1544.0 L1360.2,1547.0 L1360.2,1550.0 L1360.2,1553.0 L1360.2,1556.0 L1360.2,1559.0 L1360.1,1562.0 L1360.1,1565.0 L1360.1,1568.0 L1360.1,1571.0 L1360.1,1574.0 L1360.1,1577.0 L1360.1,1580.0 L1360.1,1583.0 L1360.1,1586.0 L1360.1,1589.0 L1360.1,1592.0 L1360.1,1595.0 L1360.1,1598.0 L1360.1,1601.0 L1360.1,1604.0 L1360.1,1607.0 L1360.1,1610.0 L1360.1,1613.0 L1360.1,1616.0 L1360.0,1619.0 L1360.0,1622.0 L1360.0,1625.0 L1360.0,1628.0 L1360.0,1631.0 L1360.0,1634.0 L1360.0,1637.0 L1360.0,1640.0 L1360.0,1643.0 L1360.0,1646.0 L1360.0,1649.0 L1360.0,1652.0 L1360.0,1655.0 L1360.0,1658.0 L1360.0,1661.0 L1360.0,1664.0 L1360.0,1667.0 L1360.0,1670.0 L1360.0,1673.0 L1360.0,1676.0 L1360.0,1679.0 L1360.0,1682.0 L1360.0,1685.0 L1360.0,1688.0 L1360.0,1691.0 L1360.0,1694.0 L1360.0,1697.0 L1360.0,1700.0 L1360.0,1703.0 L1360.0,1706.0 L1360.0,1709.0 L1360.0,1712.0 L1360.0,1715.0 L1360.0,1718.0 L1359.9,1721.0 L1359.9,1724.0 L1359.9,1727.0 L1359.9,1730.0 L1359.9,1733.0 L1359.9,1736.0 L1359.9,1739.0 L1359.9,1742.0 L1359.9,1745.0 L1359.9,1748.0 L1359.9,1751.0 L1359.9,1754.1 L1359.9,1757.1 L1359.8,1760.1 L1359.8,1763.1 L1359.8,1766.1 L1359.8,1769.1 L1359.8,1772.1 L1359.8,1775.1 L1359.7,1778.1 L1359.7,1781.2 L1359.7,1784.2 L1359.7,1787.2 L1359.6,1790.2 L1359.6,1793.3 L1359.5,1796.4 L1359.5,1799.5 L1359.4,1802.6 L1359.2,1806.0 L1358.9,1810.3 L1358.4,1813.8 L1358.2,1815.7 L1358.0,1818.4 L1357.8,1821.5 L1357.5,1824.6 L1357.3,1827.7 L1357.0,1830.9 L1356.6,1834.2 L1356.2,1837.5 L1355.7,1840.9 L1355.2,1844.3 L1354.5,1847.9 L1353.7,1851.4 L1352.9,1854.8 L1352.0,1858.2 L1351.0,1861.5 L1349.9,1864.8 L1348.8,1867.9 L1347.7,1871.0 L1346.5,1874.1 L1345.2,1877.4 L1343.6,1880.9 L1342.1,1884.1 L1340.6,1886.9 L1339.3,1889.6 L1338.0,1892.2 L1336.7,1894.7 L1335.5,1897.2 L1334.3,1899.7 L1333.1,1902.4 L1331.8,1905.1 L1330.5,1907.9 L1329.2,1910.7 L1327.9,1913.5 L1326.6,1916.3 L1325.2,1919.1 L1323.8,1922.0 L1322.3,1924.8 L1320.8,1927.7 L1319.3,1930.6 L1317.6,1933.5 L1315.9,1936.4 L1314.1,1939.3 L1312.4,1942.2 L1310.6,1944.8 L1308.8,1947.5 L1307.0,1950.2 L1305.2,1952.8 L1303.3,1955.4 L1301.4,1958.0 L1299.5,1960.6 L1297.6,1963.1 L1295.6,1965.7 L1293.6,1968.2 L1291.6,1970.7 L1289.5,1973.2 L1287.4,1975.7 L1285.3,1978.1 L1283.1,1980.6 L1280.8,1983.0 L1278.5,1985.4 L1276.2,1987.8 L1273.8,1990.1 L1271.4,1992.4 L1269.0,1994.7 L1266.5,1996.9 L1264.1,1999.1 L1261.6,2001.2 L1259.0,2003.3 L1256.5,2005.3 L1253.9,2007.3 L1251.3,2009.3 L1248.7,2011.2 L1246.0,2013.2 L1243.4,2015.0 L1240.7,2016.9 L1238.0,2018.7 L1235.2,2020.5 L1232.4,2022.2 L1229.5,2024.0 L1226.6,2025.6 L1223.7,2027.3 L1220.7,2028.9 L1217.7,2030.4 L1214.7,2031.9 L1211.6,2033.3 L1208.4,2034.7 L1205.2,2036.0 L1201.9,2037.3 L1198.5,2038.5 L1195.1,2039.6 L1191.5,2040.6 L1187.8,2041.5 L1184.1,2042.2 L1180.4,2042.8 L1176.7,2043.3 L1172.9,2043.7 L1169.2,2043.9 L1165.5,2043.9 L1161.8,2043.9 L1158.1,2043.7 L1154.4,2043.3 L1150.4,2042.8 L1146.5,2042.1 L1142.6,2041.3 L1138.8,2040.2 L1135.1,2039.0 L1131.5,2037.6 L1128.0,2036.2 L1124.6,2034.5 L1121.2,2032.8 L1118.0,2031.0 L1114.7,2029.0 L1111.6,2026.9 L1108.5,2024.6 L1105.5,2022.2 L1102.5,2019.7 L1099.7,2017.0 L1096.9,2014.2 L1094.3,2011.2 L1091.8,2008.0 L1089.4,2004.7 L1087.3,2001.4 L1085.4,1998.0 L1083.6,1994.6 L1082.0,1991.2 L1080.5,1987.8 L1079.1,1984.3 L1077.9,1980.9 L1076.8,1977.4 L1075.9,1973.9 L1075.0,1970.6 L1074.2,1967.1 L1073.5,1963.3 L1072.9,1959.4 L1072.5,1955.7 L1072.3,1952.2 L1072.1,1948.9 L1072.0,1945.8 L1071.9,1942.7 L1071.8,1939.6 L1071.7,1936.6 L1071.6,1933.5 L1071.5,1930.3 L1071.5,1927.3 L1071.5,1924.2 L1071.4,1921.1 L1071.4,1918.1 L1071.4,1915.0 L1071.4,1912.0 L1071.4,1908.9 L1071.4,1905.9 L1071.4,1902.9 L1071.4,1899.9 L1071.5,1896.9 L1071.5,1893.9 L1071.5,1890.9 L1071.5,1887.8 L1071.5,1884.8 L1071.6,1881.8 L1071.6,1878.8 L1071.6,1875.9 L1071.6,1872.9 L1071.6,1869.9 L1071.7,1866.9 L1071.7,1863.9 L1071.7,1860.9 L1071.7,1857.9 L1071.7,1854.9 L1071.7,1852.0 L1071.7,1849.0 L1071.7,1846.0 L1071.7,1843.0 L1071.7,1840.0 L1071.7,1837.0 L1071.7,1834.0 L1071.7,1831.0 L1071.7,1828.0 L1071.7,1825.0 L1071.7,1822.0 L1071.7,1819.0 L1071.7,1816.0 L1071.7,1813.0 L1071.7,1810.0 L1071.7,1807.0 L1071.8,1804.0 L1071.8,1801.0 L1071.8,1798.0 L1071.8,1795.0 L1071.8,1792.0 L1071.8,1789.0 L1071.8,1786.0 L1071.8,1783.0 L1071.8,1780.0 L1071.8,1777.0 L1071.8,1774.0 L1071.8,1771.0 L1071.8,1768.0 L1071.8,1765.0 L1071.8,1762.0 L1071.8,1759.0 L1071.8,1756.0 L1071.8,1753.0 L1071.8,1750.0 L1071.8,1747.0" fill="none" stroke="#000" stroke-width="4.4" />
<path d="M1318.2,1213.0 C1322.9,1219.7 1355.9,1219.6 1360.6,1213.0 M1318.2,1225.0 C1322.9,1231.7 1355.9,1231.6 1360.6,1225.0 M1318.2,1238.0 C1322.9,1244.7 1355.9,1244.6 1360.6,1238.0 M1318.2,1251.0 C1322.9,1257.7 1355.9,1257.6 1360.6,1251.0 M1318.3,1264.0 C1322.9,1270.7 1355.9,1270.6 1360.6,1264.0 M1318.3,1277.0 C1322.9,1283.7 1355.9,1283.6 1360.6,1277.0 M1318.3,1290.0 C1322.9,1296.7 1355.9,1296.6 1360.5,1290.0 M1318.3,1302.0 C1322.9,1308.7 1355.9,1308.6 1360.5,1302.0 M1318.3,1315.0 C1322.9,1321.7 1355.9,1321.6 1360.5,1315.0 M1318.3,1328.0 C1323.0,1334.6 1355.9,1334.7 1360.5,1328.0 M1318.3,1341.0 C1323.0,1347.6 1355.9,1347.7 1360.5,1341.0 M1318.3,1354.0 C1323.0,1360.6 1355.9,1360.7 1360.5,1354.0 M1318.3,1367.0 C1323.0,1373.6 1355.8,1373.7 1360.5,1367.0 M1318.4,1380.0 C1323.0,1386.6 1355.8,1386.7 1360.5,1380.0 M1318.4,1392.0 C1323.0,1398.6 1355.8,1398.7 1360.5,1392.0 M1318.4,1405.0 C1323.0,1411.6 1355.8,1411.7 1360.4,1405.0 M1318.4,1418.0 C1323.0,1424.6 1355.8,1424.7 1360.4,1418.0 M1318.4,1431.0 C1323.0,1437.6 1355.8,1437.7 1360.4,1431.0 M1318.4,1444.0 C1323.0,1450.6 1355.7,1450.7 1360.4,1444.0 M1318.4,1457.0 C1323.0,1463.6 1355.7,1463.7 1360.4,1457.0 M1318.4,1469.0 C1323.0,1475.6 1355.7,1475.7 1360.3,1469.0 M1318.4,1482.0 C1323.0,1488.6 1355.7,1488.7 1360.3,1482.0 M1318.4,1495.0 C1323.0,1501.6 1355.7,1501.7 1360.3,1495.0 M1318.4,1508.0 C1323.0,1514.6 1355.6,1514.7 1360.3,1508.0 M1318.3,1521.0 C1322.9,1527.6 1355.6,1527.7 1360.2,1521.0 M1318.3,1534.0 C1322.9,1540.6 1355.6,1540.7 1360.2,1534.0 M1318.3,1547.0 C1322.9,1553.6 1355.6,1553.7 1360.2,1547.0 M1318.3,1559.0 C1322.9,1565.6 1355.5,1565.7 1360.2,1559.0 M1318.3,1572.0 C1322.9,1578.6 1355.5,1578.7 1360.1,1572.0 M1318.3,1585.0 C1322.9,1591.6 1355.5,1591.7 1360.1,1585.0 M1318.3,1598.0 C1322.9,1604.6 1355.5,1604.7 1360.1,1598.0 M1318.3,1611.0 C1322.9,1617.6 1355.5,1617.7 1360.1,1611.0 M1318.3,1624.0 C1322.9,1630.6 1355.4,1630.7 1360.0,1624.0 M1318.3,1637.0 C1322.9,1643.6 1355.4,1643.7 1360.0,1637.0 M1318.3,1649.0 C1322.9,1655.6 1355.4,1655.6 1360.0,1649.0 M1318.4,1662.0 C1322.9,1668.7 1355.4,1668.6 1360.0,1662.0 M1318.4,1675.0 C1322.9,1681.7 1355.4,1681.6 1360.0,1675.0 M1318.4,1688.0 C1323.0,1694.6 1355.4,1694.7 1360.0,1688.0 M1318.4,1701.0 C1323.0,1707.6 1355.4,1707.7 1360.0,1701.0 M1318.4,1714.0 C1323.0,1720.6 1355.4,1720.7 1360.0,1714.0 M1318.4,1727.0 C1323.0,1733.6 1355.4,1733.7 1359.9,1727.0 M1318.4,1739.0 C1322.9,1745.6 1355.3,1745.7 1359.9,1739.0 M1318.4,1751.9 C1322.9,1758.6 1355.3,1758.7 1359.9,1752.1 M1318.3,1764.9 C1322.9,1771.6 1355.2,1771.7 1359.8,1765.1 M1318.3,1777.9 C1322.8,1784.5 1355.1,1784.8 1359.7,1778.1 M1318.2,1790.7 C1322.6,1797.4 1355.0,1797.9 1359.6,1791.3 M1317.9,1803.1 C1322.2,1810.0 1354.5,1811.3 1359.3,1804.9 M1316.8,1814.4 C1320.8,1821.4 1353.0,1823.7 1358.1,1817.4 M1315.8,1826.9 C1319.7,1833.9 1351.8,1837.1 1357.0,1830.9 M1314.3,1838.0 C1317.6,1845.3 1349.3,1851.1 1355.0,1845.5 M1311.8,1848.4 C1314.3,1855.8 1345.1,1865.2 1351.3,1860.4 M1308.0,1859.2 C1310.0,1866.7 1340.1,1878.2 1346.5,1874.1 M1303.4,1869.1 C1304.8,1876.4 1333.5,1891.0 1340.2,1887.8 M1297.4,1881.3 C1298.9,1888.7 1328.1,1902.4 1334.7,1898.9 M1292.3,1892.3 C1293.9,1899.6 1323.0,1913.3 1329.7,1909.7 M1286.9,1903.4 C1288.3,1910.8 1317.1,1925.2 1323.8,1922.0 M1281.4,1913.9 C1282.4,1921.1 1310.3,1937.2 1317.1,1934.4 M1275.2,1923.7 C1275.9,1930.8 1302.6,1948.7 1309.4,1946.6 M1268.2,1933.6 C1268.7,1940.6 1294.6,1959.6 1301.4,1958.0 M1260.9,1943.2 C1261.2,1950.1 1286.2,1970.2 1292.9,1969.0 M1253.2,1952.3 C1253.3,1959.0 1277.1,1980.4 1283.8,1979.8 M1245.8,1960.0 C1245.7,1966.5 1268.1,1989.4 1274.6,1989.4 M1237.2,1967.9 C1236.9,1974.2 1257.8,1998.5 1264.1,1999.1 M1228.1,1975.4 C1227.6,1981.4 1247.1,2006.9 1253.0,2008.0 M1218.5,1982.4 C1217.9,1988.2 1236.0,2014.6 1241.6,2016.3 M1208.6,1988.7 C1208.0,1994.3 1224.3,2021.8 1229.5,2024.0 M1198.6,1994.1 C1198.0,1999.5 1212.1,2028.1 1216.7,2030.9 M1189.3,1998.2 C1188.7,2003.3 1200.2,2033.1 1204.1,2036.4 M1179.6,2001.3 C1179.1,2006.1 1186.5,2037.2 1189.0,2041.2 M1170.0,2002.8 C1169.8,2007.4 1172.1,2039.2 1172.9,2043.7 M1160.1,2002.8 C1160.2,2007.3 1157.7,2039.1 1156.9,2043.6 M1151.3,2001.3 C1151.8,2006.1 1143.1,2036.8 1140.1,2040.6 M1142.6,1997.9 C1143.3,2003.2 1129.2,2031.8 1124.6,2034.5 M1134.3,1993.0 C1134.9,1998.9 1116.3,2024.8 1110.5,2026.2 M1127.9,1987.5 C1128.0,1994.0 1105.3,2016.3 1098.8,2016.1 M1122.5,1980.7 C1121.7,1987.9 1094.8,2004.9 1088.0,2002.5 M1118.2,1972.3 C1116.4,1979.7 1087.0,1991.8 1080.5,1987.8 M1115.0,1962.6 C1112.3,1969.9 1081.5,1977.9 1075.6,1972.8 M1113.2,1953.0 C1109.4,1960.0 1077.7,1963.1 1072.6,1956.9 M1112.6,1941.3 C1108.3,1948.1 1076.6,1949.2 1071.9,1942.7 M1112.2,1928.6 C1107.8,1935.4 1076.1,1935.9 1071.5,1929.3 M1112.1,1916.9 C1107.6,1923.6 1075.9,1923.7 1071.4,1917.0 M1112.1,1904.0 C1107.6,1910.7 1075.9,1910.6 1071.4,1903.9 M1112.1,1891.1 C1107.6,1897.7 1075.9,1897.5 1071.5,1890.9 M1112.2,1878.1 C1107.7,1884.7 1076.0,1884.5 1071.6,1877.8 M1112.3,1865.1 C1107.8,1871.7 1076.1,1871.6 1071.7,1864.9 M1112.3,1852.0 C1107.8,1858.6 1076.2,1858.6 1071.7,1852.0 M1112.3,1840.0 C1107.8,1846.6 1076.2,1846.6 1071.7,1840.0 M1112.3,1827.0 C1107.8,1833.6 1076.2,1833.6 1071.7,1827.0 M1112.3,1814.0 C1107.8,1820.6 1076.2,1820.6 1071.7,1814.0 M1112.2,1801.0 C1107.8,1807.6 1076.2,1807.6 1071.8,1801.0 M1112.2,1788.0 C1107.8,1794.6 1076.2,1794.6 1071.8,1788.0 M1112.2,1775.0 C1107.8,1781.6 1076.2,1781.6 1071.8,1775.0 M1112.2,1762.0 C1107.8,1768.6 1076.2,1768.6 1071.8,1762.0 M1112.2,1750.0 C1107.8,1756.6 1076.2,1756.6 1071.8,1750.0" fill="none" stroke="#000" stroke-width="3.6" />
<path d="M1307.4,1127.3 C1307.3,1114 1322,1106.8 1340,1106.8 C1358,1106.8 1372.8,1114 1372.7,1127.3 L1368.5,1193 C1367.8,1197.5 1365.5,1200 1362.4,1201.8 C1356,1205.6 1348.5,1207.4 1340,1207.4 C1331.5,1207.4 1324,1205.6 1317.6,1201.8 C1314.5,1200 1312,1197.5 1311.2,1193 Z" fill="#fff" stroke="#000" stroke-width="4.0" />
<path d="M1307.2,1127.3000000000002 C1307.4,1113.9 1322.0,1106.8000000000002 1340.0,1106.8000000000002 C1358.0,1106.8000000000002 1372.6,1113.9 1372.8,1127.3000000000002" fill="none" stroke="#000" stroke-width="4.0" />
<path d="M1312.3,1123.9 C1314.0,1113.9 1327.0,1109.1000000000001 1340.0,1109.1000000000001 C1353.0,1109.1000000000001 1366.0,1113.9 1367.7,1123.9" fill="none" stroke="#000" stroke-width="4.4" />
<path d="M1321.0,1109.1000000000001 C1330.0,1107.1000000000001 1350.0,1107.1000000000001 1359.0,1109.1000000000001 L1361.0,1112.9 C1350.0,1109.9 1330.0,1109.9 1319.0,1112.9 Z" fill="#000" stroke="#000" stroke-width="1" />
<path d="M1315.5,1128.9 C1318.0,1118.9 1329.0,1114.9 1340.0,1114.9 C1351.0,1114.9 1362.0,1118.9 1364.5,1128.9" fill="none" stroke="#000" stroke-width="3.6" />
<path d="M1319.0,1133.4 C1322.0,1125.4 1331.0,1121.9 1340.0,1121.9 C1349.0,1121.9 1358.0,1125.4 1361.0,1133.4" fill="none" stroke="#000" stroke-width="3.6" />
<path d="M1324.5,1136.4 C1328.0,1130.9 1334.0,1128.9 1340.0,1128.9 C1346.0,1128.9 1352.0,1130.9 1355.5,1136.4" fill="none" stroke="#000" stroke-width="3.4" />
<ellipse cx="1340.0" cy="1139.3" rx="16.6" ry="3.9" fill="#000" stroke="#000" stroke-width="1"/>
<path d="M1315.6,1138.9 C1322,1144.5 1331,1146.5 1340,1146.5 C1349,1146.5 1358,1144.5 1364.4,1138.9" fill="none" stroke="#000" stroke-width="3.4" />
<path d="M1315.2,1141.6 C1322,1147.8 1331,1149.6 1340,1149.6 C1349,1149.6 1358,1147.8 1364.8,1141.6" fill="none" stroke="#000" stroke-width="2.6" />
<path d="M1070.5,1700 L1070.7,1746.5 C1075.5,1752.5 1083.5,1755.6 1092.9,1755.6 C1102.5,1755.6 1110.5,1752.5 1115.4,1746.5 L1115.5,1700 Z" fill="#fff" stroke="#000" stroke-width="4.0" />
<path d="M1060.4,1664.7 C1060.3,1652 1075,1645.1 1093,1645.1 C1111,1645.1 1125.7,1652 1125.5,1664.7 L1121,1696.5 C1120.3,1699.5 1119,1700.8 1116.6,1702.2 C1110,1706.3 1101.5,1708.4 1092.9,1708.4 C1084.5,1708.4 1076,1706.3 1069.3,1702.2 C1067,1700.8 1066.3,1699.5 1065.8,1696.5 Z" fill="#fff" stroke="#000" stroke-width="4.0" />
<path d="M1060.2,1665.6000000000001 C1060.4,1652.2 1075.0,1645.1000000000001 1093.0,1645.1000000000001 C1111.0,1645.1000000000001 1125.6,1652.2 1125.8,1665.6000000000001" fill="none" stroke="#000" stroke-width="4.0" />
<path d="M1065.3,1662.2 C1067.0,1652.2 1080.0,1647.4 1093.0,1647.4 C1106.0,1647.4 1119.0,1652.2 1120.7,1662.2" fill="none" stroke="#000" stroke-width="4.4" />
<path d="M1074.0,1647.4 C1083.0,1645.4 1103.0,1645.4 1112.0,1647.4 L1114.0,1651.2 C1103.0,1648.2 1083.0,1648.2 1072.0,1651.2 Z" fill="#000" stroke="#000" stroke-width="1" />
<path d="M1068.5,1667.2 C1071.0,1657.2 1082.0,1653.2 1093.0,1653.2 C1104.0,1653.2 1115.0,1657.2 1117.5,1667.2" fill="none" stroke="#000" stroke-width="3.6" />
<path d="M1072.0,1671.7 C1075.0,1663.7 1084.0,1660.2 1093.0,1660.2 C1102.0,1660.2 1111.0,1663.7 1114.0,1671.7" fill="none" stroke="#000" stroke-width="3.6" />
<path d="M1077.5,1674.7 C1081.0,1669.2 1087.0,1667.2 1093.0,1667.2 C1099.0,1667.2 1105.0,1669.2 1108.5,1674.7" fill="none" stroke="#000" stroke-width="3.4" />
<ellipse cx="1093.0" cy="1676.3" rx="17.2" ry="5.4" fill="#000" stroke="#000" stroke-width="1"/>
<ellipse cx="1093.0" cy="1675.6" rx="12.8" ry="2.3" fill="#fff" stroke="#fff" stroke-width="0.5"/>
<path d="M1068.5,1677 C1075,1683 1084,1685 1093,1685 C1102,1685 1111,1683 1117.5,1677" fill="none" stroke="#000" stroke-width="4.4" />
</svg>
</body></html>
